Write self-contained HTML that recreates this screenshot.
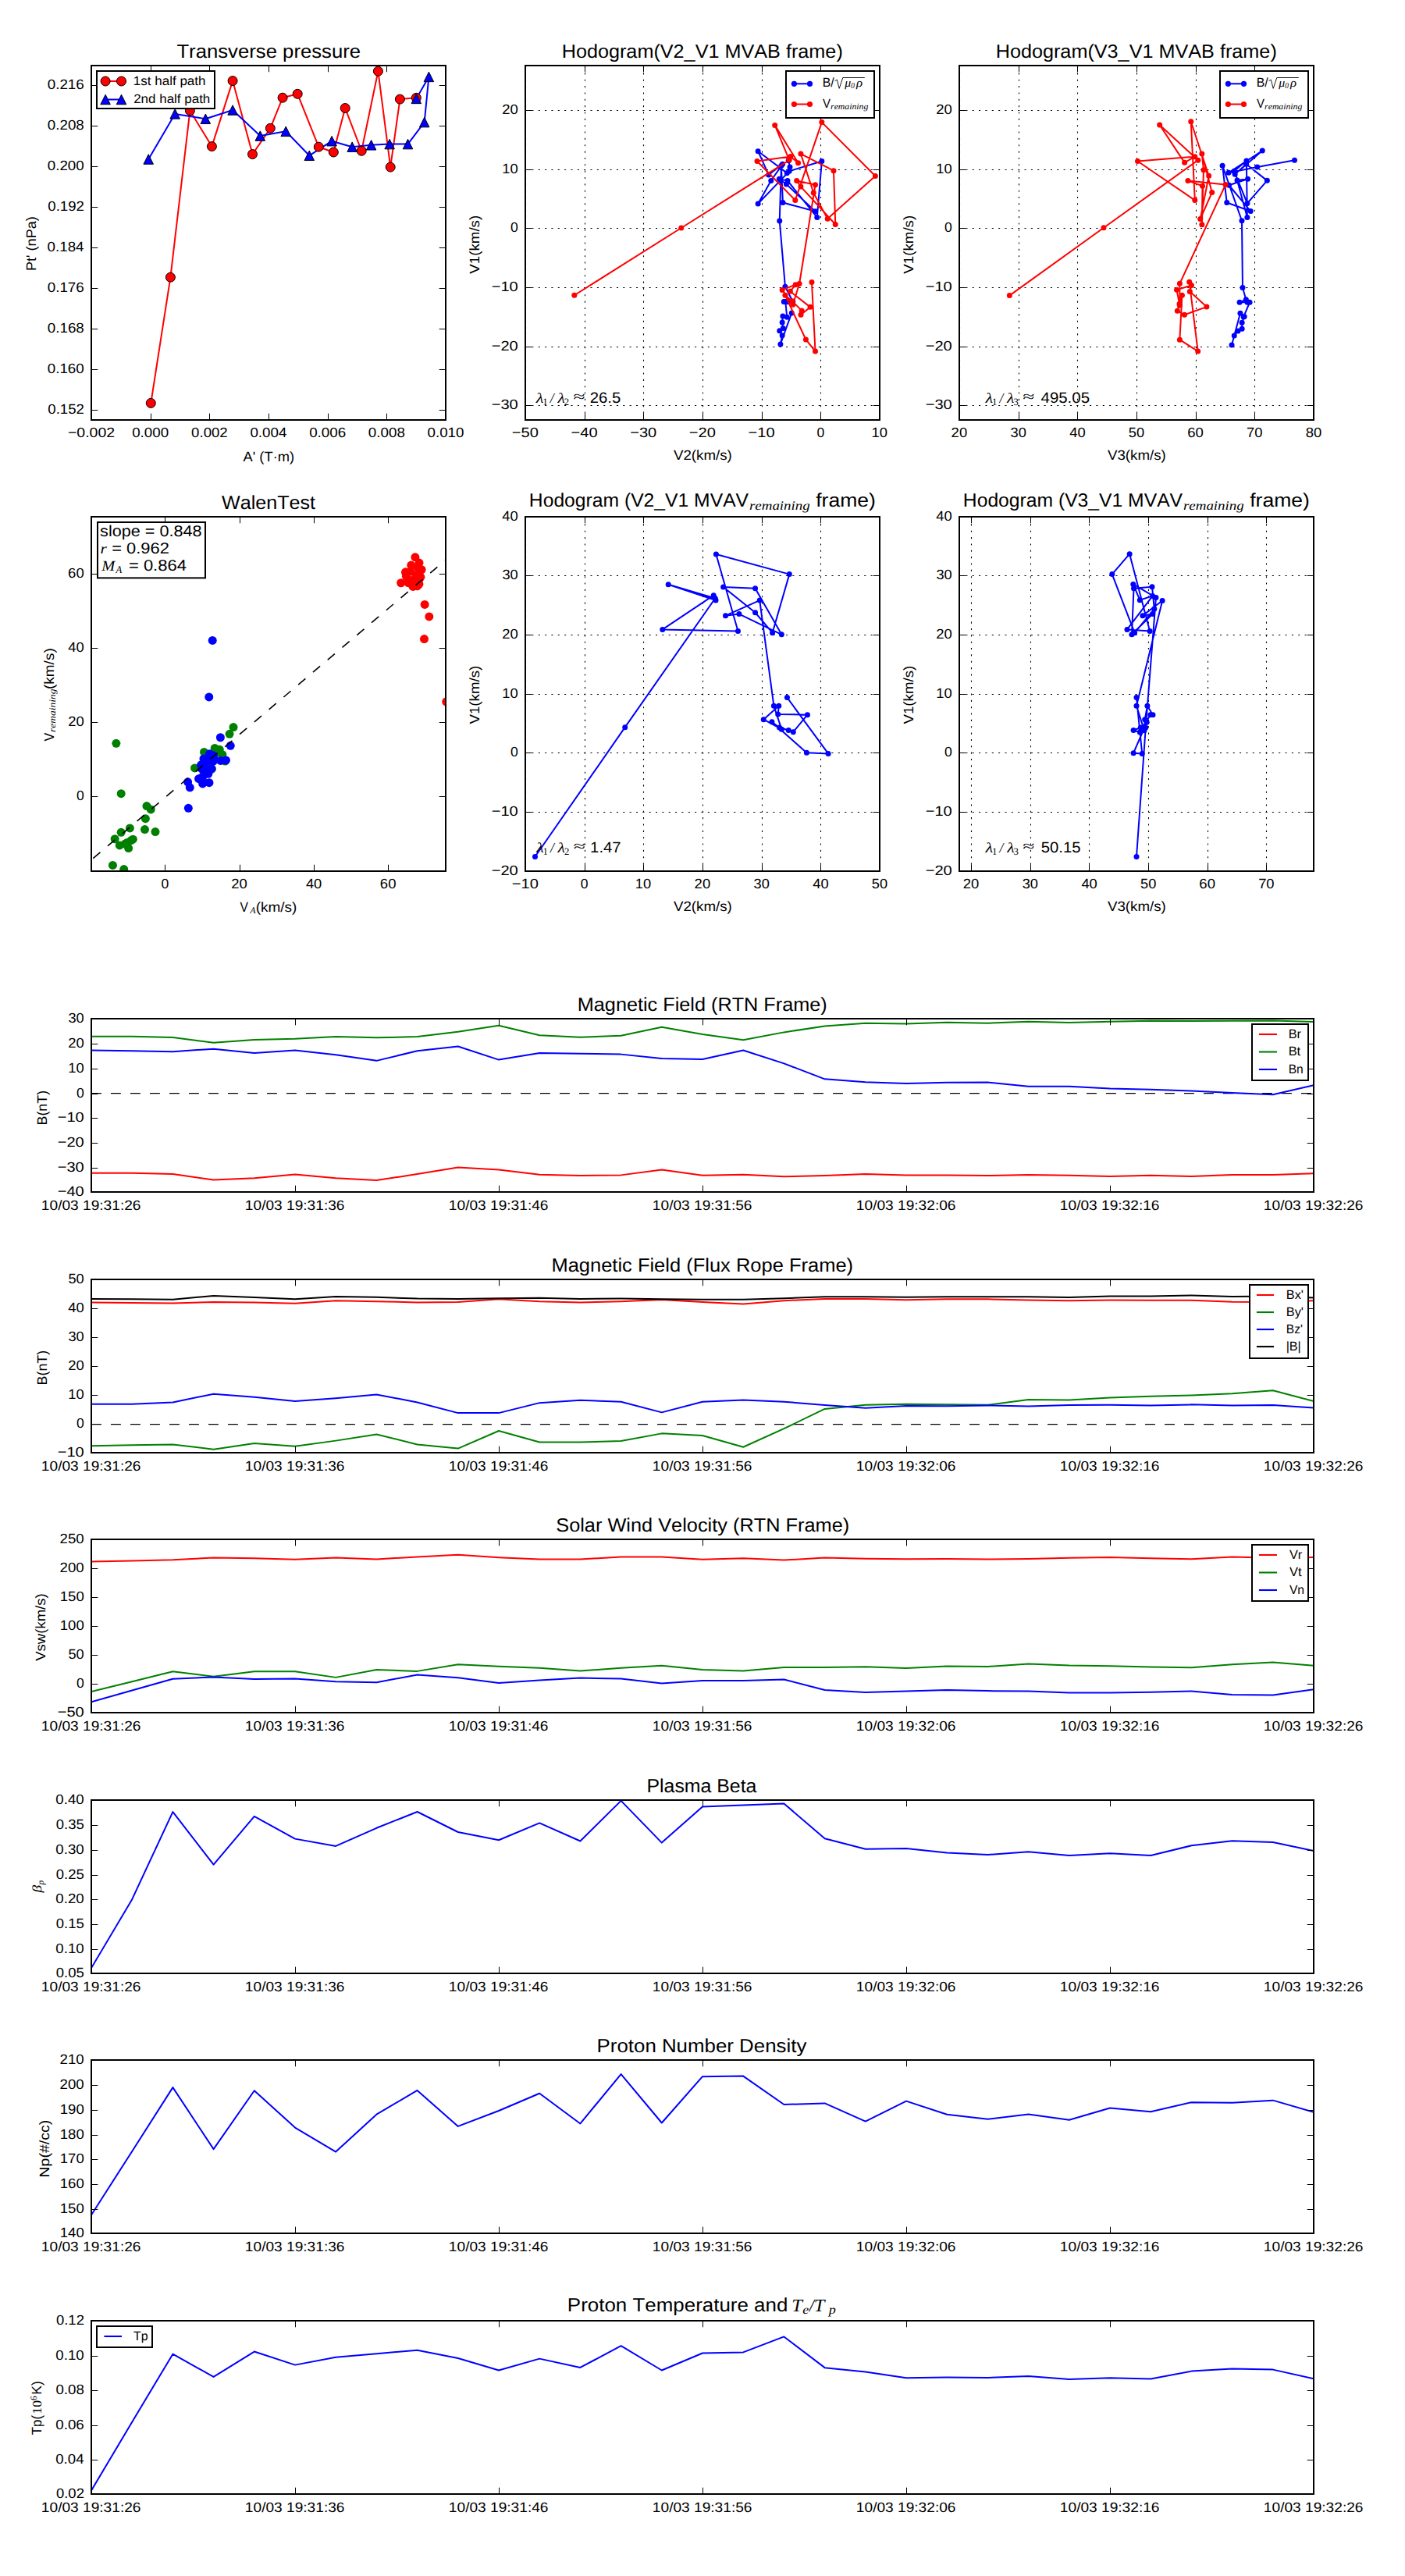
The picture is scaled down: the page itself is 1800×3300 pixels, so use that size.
<!DOCTYPE html>
<html><head><meta charset="utf-8"><style>html,body{margin:0;padding:0;background:#fff}svg{display:block} text{text-rendering:geometricPrecision;font-kerning:none;font-variant-ligatures:none;font-feature-settings:'kern' 0,'liga' 0}</style></head>
<body>
<svg width="1800" height="3300" viewBox="0 0 1800 3300" font-family="Liberation Sans, sans-serif">
<rect width="1800" height="3300" fill="#fff"/>
<clipPath id="c_A"><rect x="117" y="84" width="454" height="454"/></clipPath>
<g clip-path="url(#c_A)">
<polyline points="193.3,516.4 218.4,355.2 243.4,141.7 271.4,187.6 298.1,103.6 323.5,197.6 346.3,164.3 362.1,125.2 381.2,120.3 408.3,188.2 427.3,195 442.2,138.5 463.2,193.3 484.4,91.2 500.2,214.1 512.4,127.1 533.3,125.3" fill="none" stroke="#ff0000" stroke-width="2.0" stroke-linejoin="round" stroke-linecap="butt"/>
<polyline points="190.2,204 224.2,145.9 263.3,152.3 298.1,141 333.3,174.1 366.2,168.3 396.3,199.3 425.1,180.7 451.2,188.2 475.6,185.8 499.1,184.6 522.5,184.6 543.7,156.6 549.4,98.4 533.3,126.4" fill="none" stroke="#0000ff" stroke-width="2.0" stroke-linejoin="round" stroke-linecap="butt"/>
<g fill="#ff0000" stroke="#000" stroke-width="1.0"><circle cx="193.3" cy="516.4" r="6.0"/><circle cx="218.4" cy="355.2" r="6.0"/><circle cx="243.4" cy="141.7" r="6.0"/><circle cx="271.4" cy="187.6" r="6.0"/><circle cx="298.1" cy="103.6" r="6.0"/><circle cx="323.5" cy="197.6" r="6.0"/><circle cx="346.3" cy="164.3" r="6.0"/><circle cx="362.1" cy="125.2" r="6.0"/><circle cx="381.2" cy="120.3" r="6.0"/><circle cx="408.3" cy="188.2" r="6.0"/><circle cx="427.3" cy="195" r="6.0"/><circle cx="442.2" cy="138.5" r="6.0"/><circle cx="463.2" cy="193.3" r="6.0"/><circle cx="484.4" cy="91.2" r="6.0"/><circle cx="500.2" cy="214.1" r="6.0"/><circle cx="512.4" cy="127.1" r="6.0"/><circle cx="533.3" cy="125.3" r="6.0"/></g>
<g fill="#0000ff" stroke="#000" stroke-width="1.0"><path d="M190.2 197.75L183.95 210.25L196.45 210.25Z"/><path d="M224.2 139.65L217.95 152.15L230.45 152.15Z"/><path d="M263.3 146.05L257.05 158.55L269.55 158.55Z"/><path d="M298.1 134.75L291.85 147.25L304.35 147.25Z"/><path d="M333.3 167.85L327.05 180.35L339.55 180.35Z"/><path d="M366.2 162.05L359.95 174.55L372.45 174.55Z"/><path d="M396.3 193.05L390.05 205.55L402.55 205.55Z"/><path d="M425.1 174.45L418.85 186.95L431.35 186.95Z"/><path d="M451.2 181.95L444.95 194.45L457.45 194.45Z"/><path d="M475.6 179.55L469.35 192.05L481.85 192.05Z"/><path d="M499.1 178.35L492.85 190.85L505.35 190.85Z"/><path d="M522.5 178.35L516.25 190.85L528.75 190.85Z"/><path d="M543.7 150.35L537.45 162.85L549.95 162.85Z"/><path d="M549.4 92.15L543.15 104.65L555.65 104.65Z"/><path d="M533.3 120.15L527.05 132.65L539.55 132.65Z"/></g>
</g>
<rect x="117" y="84" width="454" height="454" fill="none" stroke="#000" stroke-width="2"/>
<path d="M117.5 538v-8.3M117.5 84v8.3M193.5 538v-8.3M193.5 84v8.3M268.5 538v-8.3M268.5 84v8.3M344.5 538v-8.3M344.5 84v8.3M420.5 538v-8.3M420.5 84v8.3M495.5 538v-8.3M495.5 84v8.3M571.5 538v-8.3M571.5 84v8.3M117 525.5h8.3M571 525.5h-8.3M117 473.5h8.3M571 473.5h-8.3M117 421.5h8.3M571 421.5h-8.3M117 369.5h8.3M571 369.5h-8.3M117 317.5h8.3M571 317.5h-8.3M117 265.5h8.3M571 265.5h-8.3M117 213.5h8.3M571 213.5h-8.3M117 161.5h8.3M571 161.5h-8.3M117 109.5h8.3M571 109.5h-8.3" stroke="#000" stroke-width="1" fill="none"/>
<text x="86.92" y="559.9" font-size="17.67" textLength="60.19" lengthAdjust="spacingAndGlyphs" >−0.002</text>
<text x="169.18" y="559.9" font-size="17.67" textLength="46.97" lengthAdjust="spacingAndGlyphs" >0.000</text>
<text x="245.13" y="559.9" font-size="17.67" textLength="46.61" lengthAdjust="spacingAndGlyphs" >0.002</text>
<text x="320.43" y="559.9" font-size="17.67" textLength="46.96" lengthAdjust="spacingAndGlyphs" >0.004</text>
<text x="396.15" y="559.9" font-size="17.67" textLength="47.13" lengthAdjust="spacingAndGlyphs" >0.006</text>
<text x="471.86" y="559.9" font-size="17.67" textLength="47.03" lengthAdjust="spacingAndGlyphs" >0.008</text>
<text x="547.51" y="559.9" font-size="17.67" textLength="46.97" lengthAdjust="spacingAndGlyphs" >0.010</text>
<text x="61.33" y="529.53" font-size="17.67" textLength="46.61" lengthAdjust="spacingAndGlyphs" >0.152</text>
<text x="60.76" y="477.64" font-size="17.67" textLength="46.97" lengthAdjust="spacingAndGlyphs" >0.160</text>
<text x="60.79" y="425.76" font-size="17.67" textLength="47.03" lengthAdjust="spacingAndGlyphs" >0.168</text>
<text x="60.7" y="373.87" font-size="17.67" textLength="47.13" lengthAdjust="spacingAndGlyphs" >0.176</text>
<text x="60.59" y="321.99" font-size="17.67" textLength="46.96" lengthAdjust="spacingAndGlyphs" >0.184</text>
<text x="61.33" y="270.1" font-size="17.67" textLength="46.61" lengthAdjust="spacingAndGlyphs" >0.192</text>
<text x="60.76" y="218.21" font-size="17.67" textLength="46.97" lengthAdjust="spacingAndGlyphs" >0.200</text>
<text x="60.79" y="166.33" font-size="17.67" textLength="47.03" lengthAdjust="spacingAndGlyphs" >0.208</text>
<text x="60.7" y="114.44" font-size="17.67" textLength="47.13" lengthAdjust="spacingAndGlyphs" >0.216</text>
<rect x="124" y="91" width="151" height="48" fill="#fff" stroke="#000" stroke-width="2"/>
<path d="M135.1 104H155.5" stroke="#ff0000" stroke-width="2"/><path d="M135.1 127.5H155.5" stroke="#0000ff" stroke-width="2"/>
<g fill="#ff0000" stroke="#000" stroke-width="1"><circle cx="135.1" cy="104" r="6"/><circle cx="155.5" cy="104" r="6"/></g>
<g fill="#0000ff" stroke="#000" stroke-width="1"><path d="M135.1 121.25L128.85 133.75L141.35 133.75Z"/><path d="M155.5 121.25L149.25 133.75L161.75 133.75Z"/></g>
<text x="170.75" y="109" font-size="16.19" textLength="92.8" lengthAdjust="spacingAndGlyphs" >1st half path</text>
<text x="171.2" y="131.9" font-size="16.19" textLength="98.12" lengthAdjust="spacingAndGlyphs" >2nd half path</text>
<text x="226.41" y="73.8" font-size="24.38" textLength="235.74" lengthAdjust="spacingAndGlyphs" >Transverse pressure</text>
<text x="311.55" y="590.8" font-size="17.67" textLength="65.61" lengthAdjust="spacingAndGlyphs" >A' (T·m)</text>
<text transform="translate(45.8,311.9) rotate(-90)" x="-35.1" y="0" font-size="17.67" textLength="69.83" lengthAdjust="spacingAndGlyphs" >Pt' (nPa)</text>
<clipPath id="c_B"><rect x="673" y="84" width="454" height="454"/></clipPath>
<g clip-path="url(#c_B)">
<path d="M673.5 538V84M749.5 538V84M824.5 538V84M900.5 538V84M976.5 538V84M1051.5 538V84M1127.5 538V84M673 519.5H1127M673 444.5H1127M673 368.5H1127M673 292.5H1127M673 217.5H1127M673 141.5H1127" stroke="#000" stroke-width="1.1" stroke-dasharray="2.1 6.25" fill="none"/>
<polyline points="1010.25,205.73 1011.99,214.1 1008.2,221.67 971.13,193.68 984.75,223.94 1002.53,210.32 987.77,231.5 971.13,261 1011.1,219.33 1052.85,206.54 1046.79,278.4 1008.96,231.5 998.37,229.23 1007.45,236.04 1044.52,270.83 1002.91,259.49 1000.91,212.24 998.74,282.94 1005.93,367.28 1015.77,386.57 1004.3,386.48 1009.47,386.85 1006.31,386.57 1008.2,406.23 1002.91,405.1 1002.15,413.04 1003.28,420.6 998.74,423.63 1002.15,429.68 999.88,441.03 1014.26,400.94" fill="none" stroke="#0000ff" stroke-width="2.0" stroke-linejoin="round" stroke-linecap="butt"/>
<g fill="#0000ff"><circle cx="1010.25" cy="205.73" r="3.5"/><circle cx="1011.99" cy="214.1" r="3.5"/><circle cx="1008.2" cy="221.67" r="3.5"/><circle cx="971.13" cy="193.68" r="3.5"/><circle cx="984.75" cy="223.94" r="3.5"/><circle cx="1002.53" cy="210.32" r="3.5"/><circle cx="987.77" cy="231.5" r="3.5"/><circle cx="971.13" cy="261" r="3.5"/><circle cx="1011.1" cy="219.33" r="3.5"/><circle cx="1052.85" cy="206.54" r="3.5"/><circle cx="1046.79" cy="278.4" r="3.5"/><circle cx="1008.96" cy="231.5" r="3.5"/><circle cx="998.37" cy="229.23" r="3.5"/><circle cx="1007.45" cy="236.04" r="3.5"/><circle cx="1044.52" cy="270.83" r="3.5"/><circle cx="1002.91" cy="259.49" r="3.5"/><circle cx="1000.91" cy="212.24" r="3.5"/><circle cx="998.74" cy="282.94" r="3.5"/><circle cx="1005.93" cy="367.28" r="3.5"/><circle cx="1015.77" cy="386.57" r="3.5"/><circle cx="1004.3" cy="386.48" r="3.5"/><circle cx="1009.47" cy="386.85" r="3.5"/><circle cx="1006.31" cy="386.57" r="3.5"/><circle cx="1008.2" cy="406.23" r="3.5"/><circle cx="1002.91" cy="405.1" r="3.5"/><circle cx="1002.15" cy="413.04" r="3.5"/><circle cx="1003.28" cy="420.6" r="3.5"/><circle cx="998.74" cy="423.63" r="3.5"/><circle cx="1002.15" cy="429.68" r="3.5"/><circle cx="999.88" cy="441.03" r="3.5"/><circle cx="1014.26" cy="400.94" r="3.5"/></g>
<polyline points="735.8,378.25 872.76,292.01 1011.23,205.03 992.69,160.4 1022.58,208.81 1012.74,200.49 969.99,206.54 1018.8,256.46 1052.85,156.62 1121.4,225.45 1060.19,280.21 1042.25,247.01 1025.91,197.08 1067.98,218.64 1070.25,287.48 1025.91,239.06 1020.69,231.5 1044.52,236.8 1024.09,363.5 1015.77,390.35 1002.15,371.44 1019.17,364.63 1012.37,373.33 1038.09,393.37 1025.99,403.21 1027.12,397.91 1015.01,385.81 1005.93,378.25 1032.42,434.98 1044.52,450.1 1039.98,361.6" fill="none" stroke="#ff0000" stroke-width="2.0" stroke-linejoin="round" stroke-linecap="butt"/>
<g fill="#ff0000"><circle cx="735.8" cy="378.25" r="3.5"/><circle cx="872.76" cy="292.01" r="3.5"/><circle cx="1011.23" cy="205.03" r="3.5"/><circle cx="992.69" cy="160.4" r="3.5"/><circle cx="1022.58" cy="208.81" r="3.5"/><circle cx="1012.74" cy="200.49" r="3.5"/><circle cx="969.99" cy="206.54" r="3.5"/><circle cx="1018.8" cy="256.46" r="3.5"/><circle cx="1052.85" cy="156.62" r="3.5"/><circle cx="1121.4" cy="225.45" r="3.5"/><circle cx="1060.19" cy="280.21" r="3.5"/><circle cx="1042.25" cy="247.01" r="3.5"/><circle cx="1025.91" cy="197.08" r="3.5"/><circle cx="1067.98" cy="218.64" r="3.5"/><circle cx="1070.25" cy="287.48" r="3.5"/><circle cx="1025.91" cy="239.06" r="3.5"/><circle cx="1020.69" cy="231.5" r="3.5"/><circle cx="1044.52" cy="236.8" r="3.5"/><circle cx="1024.09" cy="363.5" r="3.5"/><circle cx="1015.77" cy="390.35" r="3.5"/><circle cx="1002.15" cy="371.44" r="3.5"/><circle cx="1019.17" cy="364.63" r="3.5"/><circle cx="1012.37" cy="373.33" r="3.5"/><circle cx="1038.09" cy="393.37" r="3.5"/><circle cx="1025.99" cy="403.21" r="3.5"/><circle cx="1027.12" cy="397.91" r="3.5"/><circle cx="1015.01" cy="385.81" r="3.5"/><circle cx="1005.93" cy="378.25" r="3.5"/><circle cx="1032.42" cy="434.98" r="3.5"/><circle cx="1044.52" cy="450.1" r="3.5"/><circle cx="1039.98" cy="361.6" r="3.5"/></g>
</g>
<rect x="673" y="84" width="454" height="454" fill="none" stroke="#000" stroke-width="2"/>
<path d="M673.5 538v-8.3M673.5 84v8.3M749.5 538v-8.3M749.5 84v8.3M824.5 538v-8.3M824.5 84v8.3M900.5 538v-8.3M900.5 84v8.3M976.5 538v-8.3M976.5 84v8.3M1051.5 538v-8.3M1051.5 84v8.3M1127.5 538v-8.3M1127.5 84v8.3M673 519.5h8.3M1127 519.5h-8.3M673 444.5h8.3M1127 444.5h-8.3M673 368.5h8.3M1127 368.5h-8.3M673 292.5h8.3M1127 292.5h-8.3M673 217.5h8.3M1127 217.5h-8.3M673 141.5h8.3M1127 141.5h-8.3" stroke="#000" stroke-width="1" fill="none"/>
<text x="655.86" y="559.9" font-size="17.67" textLength="34.08" lengthAdjust="spacingAndGlyphs" >−50</text>
<text x="731.53" y="559.9" font-size="17.67" textLength="34.08" lengthAdjust="spacingAndGlyphs" >−40</text>
<text x="807.19" y="559.9" font-size="17.67" textLength="34.08" lengthAdjust="spacingAndGlyphs" >−30</text>
<text x="882.86" y="559.9" font-size="17.67" textLength="34.08" lengthAdjust="spacingAndGlyphs" >−20</text>
<text x="958.53" y="559.9" font-size="17.67" textLength="34.08" lengthAdjust="spacingAndGlyphs" >−10</text>
<text x="1046.45" y="559.9" font-size="17.67" textLength="9.77" lengthAdjust="spacingAndGlyphs" >0</text>
<text x="1116.47" y="559.9" font-size="17.67" textLength="20.38" lengthAdjust="spacingAndGlyphs" >10</text>
<text x="629.71" y="524.19" font-size="17.67" textLength="34.08" lengthAdjust="spacingAndGlyphs" >−30</text>
<text x="629.71" y="448.55" font-size="17.67" textLength="34.08" lengthAdjust="spacingAndGlyphs" >−20</text>
<text x="629.71" y="372.91" font-size="17.67" textLength="34.08" lengthAdjust="spacingAndGlyphs" >−10</text>
<text x="653.92" y="297.27" font-size="17.67" textLength="9.77" lengthAdjust="spacingAndGlyphs" >0</text>
<text x="643.33" y="221.63" font-size="17.67" textLength="20.38" lengthAdjust="spacingAndGlyphs" >10</text>
<text x="643.19" y="145.99" font-size="17.67" textLength="20.53" lengthAdjust="spacingAndGlyphs" >20</text>
<clipPath id="c_C"><rect x="1229" y="84" width="454" height="454"/></clipPath>
<g clip-path="url(#c_C)">
<path d="M1229.5 538V84M1305.5 538V84M1380.5 538V84M1456.5 538V84M1532.5 538V84M1607.5 538V84M1683.5 538V84M1229 519.5H1683M1229 444.5H1683M1229 368.5H1683M1229 292.5H1683M1229 217.5H1683M1229 141.5H1683" stroke="#000" stroke-width="1.1" stroke-dasharray="2.1 6.25" fill="none"/>
<polyline points="1658.48,205.25 1610.74,214.1 1573.96,221.29 1617.25,193 1582.14,223.18 1596.61,210.23 1623.37,231.35 1597.88,260.47 1581.14,219.33 1596.89,205.93 1597.88,278.4 1585.01,231.05 1598.56,229.31 1574.47,237.25 1602.19,270.53 1571.77,259.49 1566.1,212.14 1590.99,282.71 1591.97,368.41 1596.33,383.82 1588.11,387.25 1598.03,387.25 1601.05,387.25 1593.21,405.92 1594.17,405.4 1591.14,413.27 1591.14,421.13 1586,424.08 1581.23,430.06 1578.05,441.94 1588.95,401.16" fill="none" stroke="#0000ff" stroke-width="2.0" stroke-linejoin="round" stroke-linecap="butt"/>
<g fill="#0000ff"><circle cx="1658.48" cy="205.25" r="3.5"/><circle cx="1610.74" cy="214.1" r="3.5"/><circle cx="1573.96" cy="221.29" r="3.5"/><circle cx="1617.25" cy="193" r="3.5"/><circle cx="1582.14" cy="223.18" r="3.5"/><circle cx="1596.61" cy="210.23" r="3.5"/><circle cx="1623.37" cy="231.35" r="3.5"/><circle cx="1597.88" cy="260.47" r="3.5"/><circle cx="1581.14" cy="219.33" r="3.5"/><circle cx="1596.89" cy="205.93" r="3.5"/><circle cx="1597.88" cy="278.4" r="3.5"/><circle cx="1585.01" cy="231.05" r="3.5"/><circle cx="1598.56" cy="229.31" r="3.5"/><circle cx="1574.47" cy="237.25" r="3.5"/><circle cx="1602.19" cy="270.53" r="3.5"/><circle cx="1571.77" cy="259.49" r="3.5"/><circle cx="1566.1" cy="212.14" r="3.5"/><circle cx="1590.99" cy="282.71" r="3.5"/><circle cx="1591.97" cy="368.41" r="3.5"/><circle cx="1596.33" cy="383.82" r="3.5"/><circle cx="1588.11" cy="387.25" r="3.5"/><circle cx="1598.03" cy="387.25" r="3.5"/><circle cx="1601.05" cy="387.25" r="3.5"/><circle cx="1593.21" cy="405.92" r="3.5"/><circle cx="1594.17" cy="405.4" r="3.5"/><circle cx="1591.14" cy="413.27" r="3.5"/><circle cx="1591.14" cy="421.13" r="3.5"/><circle cx="1586" cy="424.08" r="3.5"/><circle cx="1581.23" cy="430.06" r="3.5"/><circle cx="1578.05" cy="441.94" r="3.5"/><circle cx="1588.95" cy="401.16" r="3.5"/></g>
<polyline points="1293.32,378.62 1414.01,291.79 1534.84,205.25 1485.66,160.02 1517.59,208.35 1530.83,200.64 1457.51,206.54 1530.83,256.61 1525.76,155.71 1548.69,225.3 1537.72,280.59 1552.7,246.55 1539.84,197.01 1541.96,217.81 1539.84,287.78 1540.52,238.23 1521.91,231.5 1570.11,236.49 1511.39,363.34 1511.39,391.33 1507.53,371.36 1526.52,365.46 1524.33,373.48 1545.89,393.07 1517.44,403.28 1508.36,398.14 1511.01,389.21 1514.41,378.17 1511.39,435.13 1534.69,450.03 1523.72,361.15" fill="none" stroke="#ff0000" stroke-width="2.0" stroke-linejoin="round" stroke-linecap="butt"/>
<g fill="#ff0000"><circle cx="1293.32" cy="378.62" r="3.5"/><circle cx="1414.01" cy="291.79" r="3.5"/><circle cx="1534.84" cy="205.25" r="3.5"/><circle cx="1485.66" cy="160.02" r="3.5"/><circle cx="1517.59" cy="208.35" r="3.5"/><circle cx="1530.83" cy="200.64" r="3.5"/><circle cx="1457.51" cy="206.54" r="3.5"/><circle cx="1530.83" cy="256.61" r="3.5"/><circle cx="1525.76" cy="155.71" r="3.5"/><circle cx="1548.69" cy="225.3" r="3.5"/><circle cx="1537.72" cy="280.59" r="3.5"/><circle cx="1552.7" cy="246.55" r="3.5"/><circle cx="1539.84" cy="197.01" r="3.5"/><circle cx="1541.96" cy="217.81" r="3.5"/><circle cx="1539.84" cy="287.78" r="3.5"/><circle cx="1540.52" cy="238.23" r="3.5"/><circle cx="1521.91" cy="231.5" r="3.5"/><circle cx="1570.11" cy="236.49" r="3.5"/><circle cx="1511.39" cy="363.34" r="3.5"/><circle cx="1511.39" cy="391.33" r="3.5"/><circle cx="1507.53" cy="371.36" r="3.5"/><circle cx="1526.52" cy="365.46" r="3.5"/><circle cx="1524.33" cy="373.48" r="3.5"/><circle cx="1545.89" cy="393.07" r="3.5"/><circle cx="1517.44" cy="403.28" r="3.5"/><circle cx="1508.36" cy="398.14" r="3.5"/><circle cx="1511.01" cy="389.21" r="3.5"/><circle cx="1514.41" cy="378.17" r="3.5"/><circle cx="1511.39" cy="435.13" r="3.5"/><circle cx="1534.69" cy="450.03" r="3.5"/><circle cx="1523.72" cy="361.15" r="3.5"/></g>
</g>
<rect x="1229" y="84" width="454" height="454" fill="none" stroke="#000" stroke-width="2"/>
<path d="M1229.5 538v-8.3M1229.5 84v8.3M1305.5 538v-8.3M1305.5 84v8.3M1380.5 538v-8.3M1380.5 84v8.3M1456.5 538v-8.3M1456.5 84v8.3M1532.5 538v-8.3M1532.5 84v8.3M1607.5 538v-8.3M1607.5 84v8.3M1683.5 538v-8.3M1683.5 84v8.3M1229 519.5h8.3M1683 519.5h-8.3M1229 444.5h8.3M1683 444.5h-8.3M1229 368.5h8.3M1683 368.5h-8.3M1229 292.5h8.3M1683 292.5h-8.3M1229 217.5h8.3M1683 217.5h-8.3M1229 141.5h8.3M1683 141.5h-8.3" stroke="#000" stroke-width="1" fill="none"/>
<text x="1218.63" y="559.9" font-size="17.67" textLength="20.53" lengthAdjust="spacingAndGlyphs" >20</text>
<text x="1294.56" y="559.9" font-size="17.67" textLength="20.23" lengthAdjust="spacingAndGlyphs" >30</text>
<text x="1370.27" y="559.9" font-size="17.67" textLength="20.43" lengthAdjust="spacingAndGlyphs" >40</text>
<text x="1445.86" y="559.9" font-size="17.67" textLength="20.26" lengthAdjust="spacingAndGlyphs" >50</text>
<text x="1521.26" y="559.9" font-size="17.67" textLength="20.6" lengthAdjust="spacingAndGlyphs" >60</text>
<text x="1597.03" y="559.9" font-size="17.67" textLength="20.39" lengthAdjust="spacingAndGlyphs" >70</text>
<text x="1672.71" y="559.9" font-size="17.67" textLength="20.49" lengthAdjust="spacingAndGlyphs" >80</text>
<text x="1185.71" y="524.19" font-size="17.67" textLength="34.08" lengthAdjust="spacingAndGlyphs" >−30</text>
<text x="1185.71" y="448.55" font-size="17.67" textLength="34.08" lengthAdjust="spacingAndGlyphs" >−20</text>
<text x="1185.71" y="372.91" font-size="17.67" textLength="34.08" lengthAdjust="spacingAndGlyphs" >−10</text>
<text x="1209.92" y="297.27" font-size="17.67" textLength="9.77" lengthAdjust="spacingAndGlyphs" >0</text>
<text x="1199.33" y="221.63" font-size="17.67" textLength="20.38" lengthAdjust="spacingAndGlyphs" >10</text>
<text x="1199.19" y="145.99" font-size="17.67" textLength="20.53" lengthAdjust="spacingAndGlyphs" >20</text>
<text x="719.7" y="73.8" font-size="24.38" textLength="360.09" lengthAdjust="spacingAndGlyphs" >Hodogram(V2_V1 MVAB frame)</text>
<text x="1275.7" y="73.8" font-size="24.38" textLength="360.09" lengthAdjust="spacingAndGlyphs" >Hodogram(V3_V1 MVAB frame)</text>
<clipPath id="c_E"><rect x="673" y="662" width="454" height="454"/></clipPath>
<g clip-path="url(#c_E)">
<path d="M673.5 1116V662M749.5 1116V662M824.5 1116V662M900.5 1116V662M976.5 1116V662M1051.5 1116V662M1127.5 1116V662M673 1116.5H1127M673 1040.5H1127M673 964.5H1127M673 889.5H1127M673 813.5H1127M673 737.5H1127M673 662.5H1127" stroke="#000" stroke-width="1.1" stroke-dasharray="2.1 6.25" fill="none"/>
<polyline points="685.49,1097.46 800.73,931.68 916.26,766.45 856.19,748.79 917.02,769.07 914.23,762.64 848.77,806.45 945.48,808.57 917.4,710.05 1011.31,735.62 989.59,810.68 967.57,784.73 926.63,752.04 967.57,753.78 1001.32,812.8 946.91,786.55 929.51,788.67 973.25,769.07 991.41,904.28 1001.32,934.17 978.24,921.69 997.76,904.28 996.7,914.95 1034.46,915.63 1016.3,937.73 1010.25,935.53 998.52,931.98 988.91,924.87 1033.4,964.36 1061.09,965.42 1008.43,893.62" fill="none" stroke="#0000ff" stroke-width="2.0" stroke-linejoin="round" stroke-linecap="butt"/>
<g fill="#0000ff"><circle cx="685.49" cy="1097.46" r="3.5"/><circle cx="800.73" cy="931.68" r="3.5"/><circle cx="916.26" cy="766.45" r="3.5"/><circle cx="856.19" cy="748.79" r="3.5"/><circle cx="917.02" cy="769.07" r="3.5"/><circle cx="914.23" cy="762.64" r="3.5"/><circle cx="848.77" cy="806.45" r="3.5"/><circle cx="945.48" cy="808.57" r="3.5"/><circle cx="917.4" cy="710.05" r="3.5"/><circle cx="1011.31" cy="735.62" r="3.5"/><circle cx="989.59" cy="810.68" r="3.5"/><circle cx="967.57" cy="784.73" r="3.5"/><circle cx="926.63" cy="752.04" r="3.5"/><circle cx="967.57" cy="753.78" r="3.5"/><circle cx="1001.32" cy="812.8" r="3.5"/><circle cx="946.91" cy="786.55" r="3.5"/><circle cx="929.51" cy="788.67" r="3.5"/><circle cx="973.25" cy="769.07" r="3.5"/><circle cx="991.41" cy="904.28" r="3.5"/><circle cx="1001.32" cy="934.17" r="3.5"/><circle cx="978.24" cy="921.69" r="3.5"/><circle cx="997.76" cy="904.28" r="3.5"/><circle cx="996.7" cy="914.95" r="3.5"/><circle cx="1034.46" cy="915.63" r="3.5"/><circle cx="1016.3" cy="937.73" r="3.5"/><circle cx="1010.25" cy="935.53" r="3.5"/><circle cx="998.52" cy="931.98" r="3.5"/><circle cx="988.91" cy="924.87" r="3.5"/><circle cx="1033.4" cy="964.36" r="3.5"/><circle cx="1061.09" cy="965.42" r="3.5"/><circle cx="1008.43" cy="893.62" r="3.5"/></g>
</g>
<rect x="673" y="662" width="454" height="454" fill="none" stroke="#000" stroke-width="2"/>
<path d="M673.5 1116v-8.3M673.5 662v8.3M749.5 1116v-8.3M749.5 662v8.3M824.5 1116v-8.3M824.5 662v8.3M900.5 1116v-8.3M900.5 662v8.3M976.5 1116v-8.3M976.5 662v8.3M1051.5 1116v-8.3M1051.5 662v8.3M1127.5 1116v-8.3M1127.5 662v8.3M673 1116.5h8.3M1127 1116.5h-8.3M673 1040.5h8.3M1127 1040.5h-8.3M673 964.5h8.3M1127 964.5h-8.3M673 889.5h8.3M1127 889.5h-8.3M673 813.5h8.3M1127 813.5h-8.3M673 737.5h8.3M1127 737.5h-8.3M673 662.5h8.3M1127 662.5h-8.3" stroke="#000" stroke-width="1" fill="none"/>
<text x="655.86" y="1137.9" font-size="17.67" textLength="34.08" lengthAdjust="spacingAndGlyphs" >−10</text>
<text x="743.78" y="1137.9" font-size="17.67" textLength="9.77" lengthAdjust="spacingAndGlyphs" >0</text>
<text x="813.8" y="1137.9" font-size="17.67" textLength="20.38" lengthAdjust="spacingAndGlyphs" >10</text>
<text x="889.63" y="1137.9" font-size="17.67" textLength="20.53" lengthAdjust="spacingAndGlyphs" >20</text>
<text x="965.56" y="1137.9" font-size="17.67" textLength="20.23" lengthAdjust="spacingAndGlyphs" >30</text>
<text x="1041.27" y="1137.9" font-size="17.67" textLength="20.43" lengthAdjust="spacingAndGlyphs" >40</text>
<text x="1116.86" y="1137.9" font-size="17.67" textLength="20.26" lengthAdjust="spacingAndGlyphs" >50</text>
<text x="629.71" y="1120.5" font-size="17.67" textLength="34.08" lengthAdjust="spacingAndGlyphs" >−20</text>
<text x="629.71" y="1044.83" font-size="17.67" textLength="34.08" lengthAdjust="spacingAndGlyphs" >−10</text>
<text x="653.92" y="969.17" font-size="17.67" textLength="9.77" lengthAdjust="spacingAndGlyphs" >0</text>
<text x="643.33" y="893.5" font-size="17.67" textLength="20.38" lengthAdjust="spacingAndGlyphs" >10</text>
<text x="643.19" y="817.83" font-size="17.67" textLength="20.53" lengthAdjust="spacingAndGlyphs" >20</text>
<text x="643.48" y="742.17" font-size="17.67" textLength="20.23" lengthAdjust="spacingAndGlyphs" >30</text>
<text x="643.29" y="666.5" font-size="17.67" textLength="20.43" lengthAdjust="spacingAndGlyphs" >40</text>
<clipPath id="c_F"><rect x="1229" y="662" width="454" height="454"/></clipPath>
<g clip-path="url(#c_F)">
<path d="M1244.5 1116V662M1320.5 1116V662M1395.5 1116V662M1471.5 1116V662M1547.5 1116V662M1622.5 1116V662M1229 1116.5H1683M1229 1040.5H1683M1229 964.5H1683M1229 889.5H1683M1229 813.5H1683M1229 737.5H1683M1229 662.5H1683" stroke="#000" stroke-width="1.1" stroke-dasharray="2.1 6.25" fill="none"/>
<polyline points="1456,1097.46 1467.8,931.98 1480.97,765.51 1451.76,748.41 1460.31,768.69 1476.66,763.39 1443.97,806.45 1473.1,808.57 1447.15,709.67 1424.75,735.62 1453.58,810.68 1478.85,780.1 1475.98,751.66 1452.52,753.78 1450.02,812.8 1476.66,786.47 1463.87,788.67 1489.14,769.45 1456,904.28 1465.98,935.84 1466.74,921.69 1469.92,904.28 1476.98,915.79 1473.86,915.63 1460.31,938.03 1452.14,935.53 1461.37,931.98 1469.24,925.24 1452.14,964.67 1463.19,965.42 1456,893.62" fill="none" stroke="#0000ff" stroke-width="2.0" stroke-linejoin="round" stroke-linecap="butt"/>
<g fill="#0000ff"><circle cx="1456" cy="1097.46" r="3.5"/><circle cx="1467.8" cy="931.98" r="3.5"/><circle cx="1480.97" cy="765.51" r="3.5"/><circle cx="1451.76" cy="748.41" r="3.5"/><circle cx="1460.31" cy="768.69" r="3.5"/><circle cx="1476.66" cy="763.39" r="3.5"/><circle cx="1443.97" cy="806.45" r="3.5"/><circle cx="1473.1" cy="808.57" r="3.5"/><circle cx="1447.15" cy="709.67" r="3.5"/><circle cx="1424.75" cy="735.62" r="3.5"/><circle cx="1453.58" cy="810.68" r="3.5"/><circle cx="1478.85" cy="780.1" r="3.5"/><circle cx="1475.98" cy="751.66" r="3.5"/><circle cx="1452.52" cy="753.78" r="3.5"/><circle cx="1450.02" cy="812.8" r="3.5"/><circle cx="1476.66" cy="786.47" r="3.5"/><circle cx="1463.87" cy="788.67" r="3.5"/><circle cx="1489.14" cy="769.45" r="3.5"/><circle cx="1456" cy="904.28" r="3.5"/><circle cx="1465.98" cy="935.84" r="3.5"/><circle cx="1466.74" cy="921.69" r="3.5"/><circle cx="1469.92" cy="904.28" r="3.5"/><circle cx="1476.98" cy="915.79" r="3.5"/><circle cx="1473.86" cy="915.63" r="3.5"/><circle cx="1460.31" cy="938.03" r="3.5"/><circle cx="1452.14" cy="935.53" r="3.5"/><circle cx="1461.37" cy="931.98" r="3.5"/><circle cx="1469.24" cy="925.24" r="3.5"/><circle cx="1452.14" cy="964.67" r="3.5"/><circle cx="1463.19" cy="965.42" r="3.5"/><circle cx="1456" cy="893.62" r="3.5"/></g>
</g>
<rect x="1229" y="662" width="454" height="454" fill="none" stroke="#000" stroke-width="2"/>
<path d="M1244.5 1116v-8.3M1244.5 662v8.3M1320.5 1116v-8.3M1320.5 662v8.3M1395.5 1116v-8.3M1395.5 662v8.3M1471.5 1116v-8.3M1471.5 662v8.3M1547.5 1116v-8.3M1547.5 662v8.3M1622.5 1116v-8.3M1622.5 662v8.3M1229 1116.5h8.3M1683 1116.5h-8.3M1229 1040.5h8.3M1683 1040.5h-8.3M1229 964.5h8.3M1683 964.5h-8.3M1229 889.5h8.3M1683 889.5h-8.3M1229 813.5h8.3M1683 813.5h-8.3M1229 737.5h8.3M1683 737.5h-8.3M1229 662.5h8.3M1683 662.5h-8.3" stroke="#000" stroke-width="1" fill="none"/>
<text x="1233.76" y="1137.9" font-size="17.67" textLength="20.53" lengthAdjust="spacingAndGlyphs" >20</text>
<text x="1309.69" y="1137.9" font-size="17.67" textLength="20.23" lengthAdjust="spacingAndGlyphs" >30</text>
<text x="1385.4" y="1137.9" font-size="17.67" textLength="20.43" lengthAdjust="spacingAndGlyphs" >40</text>
<text x="1461" y="1137.9" font-size="17.67" textLength="20.26" lengthAdjust="spacingAndGlyphs" >50</text>
<text x="1536.39" y="1137.9" font-size="17.67" textLength="20.6" lengthAdjust="spacingAndGlyphs" >60</text>
<text x="1612.16" y="1137.9" font-size="17.67" textLength="20.39" lengthAdjust="spacingAndGlyphs" >70</text>
<text x="1185.71" y="1120.5" font-size="17.67" textLength="34.08" lengthAdjust="spacingAndGlyphs" >−20</text>
<text x="1185.71" y="1044.83" font-size="17.67" textLength="34.08" lengthAdjust="spacingAndGlyphs" >−10</text>
<text x="1209.92" y="969.17" font-size="17.67" textLength="9.77" lengthAdjust="spacingAndGlyphs" >0</text>
<text x="1199.33" y="893.5" font-size="17.67" textLength="20.38" lengthAdjust="spacingAndGlyphs" >10</text>
<text x="1199.19" y="817.83" font-size="17.67" textLength="20.53" lengthAdjust="spacingAndGlyphs" >20</text>
<text x="1199.48" y="742.17" font-size="17.67" textLength="20.23" lengthAdjust="spacingAndGlyphs" >30</text>
<text x="1199.29" y="666.5" font-size="17.67" textLength="20.43" lengthAdjust="spacingAndGlyphs" >40</text>
<clipPath id="c_D"><rect x="117" y="662" width="454" height="454"/></clipPath>
<g clip-path="url(#c_D)">
<g fill="#ff0000"><circle cx="571.7" cy="899.01" r="5.5"/><circle cx="543.49" cy="818.52" r="5.5"/><circle cx="520.42" cy="738.33" r="5.5"/><circle cx="544.14" cy="774.47" r="5.5"/><circle cx="523.12" cy="746.68" r="5.5"/><circle cx="532.65" cy="739.34" r="5.5"/><circle cx="549.81" cy="789.97" r="5.5"/><circle cx="533.13" cy="739.15" r="5.5"/><circle cx="523.56" cy="742.55" r="5.5"/><circle cx="537.03" cy="721.05" r="5.5"/><circle cx="538.02" cy="730.27" r="5.5"/><circle cx="526.77" cy="724.11" r="5.5"/><circle cx="534.22" cy="736.03" r="5.5"/><circle cx="519.59" cy="732.86" r="5.5"/><circle cx="540.12" cy="729.75" r="5.5"/><circle cx="519.85" cy="733.5" r="5.5"/><circle cx="513.69" cy="746.75" r="5.5"/><circle cx="531.92" cy="713.79" r="5.5"/><circle cx="529.71" cy="750.8" r="5.5"/><circle cx="536.91" cy="748.25" r="5.5"/><circle cx="529.13" cy="751.43" r="5.5"/><circle cx="537.64" cy="738.72" r="5.5"/><circle cx="538.87" cy="739.33" r="5.5"/><circle cx="535.29" cy="727.18" r="5.5"/><circle cx="536.1" cy="744.36" r="5.5"/><circle cx="534.4" cy="750.81" r="5.5"/><circle cx="534.49" cy="750.28" r="5.5"/><circle cx="531.45" cy="746.96" r="5.5"/><circle cx="527.56" cy="748.65" r="5.5"/><circle cx="525.82" cy="732.02" r="5.5"/><circle cx="532.19" cy="741.56" r="5.5"/></g>
<g fill="#008000"><circle cx="148.85" cy="952.36" r="5.5"/><circle cx="155.17" cy="1016.67" r="5.5"/><circle cx="160.28" cy="1081" r="5.5"/><circle cx="144.45" cy="1108.47" r="5.5"/><circle cx="162.96" cy="1079.49" r="5.5"/><circle cx="153.26" cy="1082.95" r="5.5"/><circle cx="167.87" cy="1076.64" r="5.5"/><circle cx="186.38" cy="1048.73" r="5.5"/><circle cx="158.73" cy="1113.6" r="5.5"/><circle cx="147.13" cy="1074.76" r="5.5"/><circle cx="193.26" cy="1036.9" r="5.5"/><circle cx="166.39" cy="1060.9" r="5.5"/><circle cx="164.64" cy="1086.56" r="5.5"/><circle cx="170.34" cy="1075.18" r="5.5"/><circle cx="187.94" cy="1032.55" r="5.5"/><circle cx="185.49" cy="1062.54" r="5.5"/><circle cx="155.2" cy="1066.28" r="5.5"/><circle cx="198.97" cy="1065.56" r="5.5"/><circle cx="249.48" cy="983.89" r="5.5"/><circle cx="261.52" cy="963.48" r="5.5"/><circle cx="263.82" cy="976.33" r="5.5"/><circle cx="263.49" cy="980.96" r="5.5"/><circle cx="262.41" cy="974.66" r="5.5"/><circle cx="275.65" cy="965.66" r="5.5"/><circle cx="275.18" cy="958.44" r="5.5"/><circle cx="281.22" cy="960.24" r="5.5"/><circle cx="284.89" cy="966.69" r="5.5"/><circle cx="288.37" cy="975.07" r="5.5"/><circle cx="294.05" cy="940.3" r="5.5"/><circle cx="299.03" cy="931.58" r="5.5"/><circle cx="271.4" cy="985.16" r="5.5"/></g>
<g fill="#0000ff"><circle cx="272.21" cy="820.44" r="5.5"/><circle cx="267.77" cy="892.9" r="5.5"/><circle cx="268.45" cy="965.72" r="5.5"/><circle cx="295.25" cy="955.28" r="5.5"/><circle cx="282.55" cy="974.39" r="5.5"/><circle cx="273.32" cy="967.83" r="5.5"/><circle cx="282.37" cy="944.74" r="5.5"/><circle cx="289.47" cy="973.92" r="5.5"/><circle cx="266.87" cy="991.35" r="5.5"/><circle cx="241.34" cy="1035.3" r="5.5"/><circle cx="240.62" cy="1001.82" r="5.5"/><circle cx="266.43" cy="985.7" r="5.5"/><circle cx="274.66" cy="973.47" r="5.5"/><circle cx="267.98" cy="1002.73" r="5.5"/><circle cx="243.29" cy="1008.87" r="5.5"/><circle cx="268.24" cy="974.46" r="5.5"/><circle cx="272.92" cy="975.41" r="5.5"/><circle cx="271" cy="984.7" r="5.5"/><circle cx="264.36" cy="985.61" r="5.5"/><circle cx="257.58" cy="980.07" r="5.5"/><circle cx="260.94" cy="971.94" r="5.5"/><circle cx="258.36" cy="984.85" r="5.5"/><circle cx="261.08" cy="978.6" r="5.5"/><circle cx="258.27" cy="995.91" r="5.5"/><circle cx="261.64" cy="991.29" r="5.5"/><circle cx="262.36" cy="991.91" r="5.5"/><circle cx="259.31" cy="982.46" r="5.5"/><circle cx="262.31" cy="974.59" r="5.5"/><circle cx="259.39" cy="999.14" r="5.5"/><circle cx="259.63" cy="1003.97" r="5.5"/><circle cx="254.58" cy="997.73" r="5.5"/></g>
<polyline points="117,1101.54 571,717.28" fill="none" stroke="#000" stroke-width="1.6" stroke-linejoin="round" stroke-linecap="butt" stroke-dasharray="12 12.6" stroke-dashoffset="-3"/>
</g>
<rect x="117" y="662" width="454" height="454" fill="none" stroke="#000" stroke-width="2"/>
<path d="M211.5 1116v-8.3M211.5 662v8.3M307.5 1116v-8.3M307.5 662v8.3M402.5 1116v-8.3M402.5 662v8.3M497.5 1116v-8.3M497.5 662v8.3M117 1020.5h8.3M571 1020.5h-8.3M117 925.5h8.3M571 925.5h-8.3M117 830.5h8.3M571 830.5h-8.3M117 735.5h8.3M571 735.5h-8.3" stroke="#000" stroke-width="1" fill="none"/>
<text x="206.47" y="1137.9" font-size="17.67" textLength="9.77" lengthAdjust="spacingAndGlyphs" >0</text>
<text x="296.29" y="1137.9" font-size="17.67" textLength="20.53" lengthAdjust="spacingAndGlyphs" >20</text>
<text x="391.91" y="1137.9" font-size="17.67" textLength="20.43" lengthAdjust="spacingAndGlyphs" >40</text>
<text x="486.87" y="1137.9" font-size="17.67" textLength="20.6" lengthAdjust="spacingAndGlyphs" >60</text>
<text x="97.92" y="1025.37" font-size="17.67" textLength="9.77" lengthAdjust="spacingAndGlyphs" >0</text>
<text x="87.19" y="930.24" font-size="17.67" textLength="20.53" lengthAdjust="spacingAndGlyphs" >20</text>
<text x="87.29" y="835.11" font-size="17.67" textLength="20.43" lengthAdjust="spacingAndGlyphs" >40</text>
<text x="87.12" y="739.99" font-size="17.67" textLength="20.6" lengthAdjust="spacingAndGlyphs" >60</text>
<text x="283.97" y="651.7" font-size="24.38" textLength="120.13" lengthAdjust="spacingAndGlyphs" >WalenTest</text>
<text x="686.75" y="515.6" font-family="Liberation Serif" font-style="italic" font-size="18.19" textLength="9.71" lengthAdjust="spacingAndGlyphs" >λ</text>
<text x="695.28" y="519" font-family="Liberation Serif" font-size="12.74" >1</text>
<text x="704.7" y="515.6" font-family="Liberation Serif" font-style="italic" font-size="18.19" textLength="4.86" lengthAdjust="spacingAndGlyphs" >/</text>
<text x="714.43" y="515.6" font-family="Liberation Serif" font-style="italic" font-size="18.19" textLength="9.41" lengthAdjust="spacingAndGlyphs" >λ</text>
<text x="722.74" y="519" font-family="Liberation Serif" font-size="12.74" >2</text>
<text x="734.53" y="514.1" font-family="Liberation Serif" font-size="18.19" textLength="15.18" lengthAdjust="spacingAndGlyphs" >≈</text>
<text x="755.76" y="515.6" font-size="19.29" textLength="39.46" lengthAdjust="spacingAndGlyphs" >26.5</text>
<text x="1262.45" y="515.5" font-family="Liberation Serif" font-style="italic" font-size="18.19" textLength="9.71" lengthAdjust="spacingAndGlyphs" >λ</text>
<text x="1270.98" y="518.9" font-family="Liberation Serif" font-size="12.74" >1</text>
<text x="1280.4" y="515.5" font-family="Liberation Serif" font-style="italic" font-size="18.19" textLength="4.86" lengthAdjust="spacingAndGlyphs" >/</text>
<text x="1290.13" y="515.5" font-family="Liberation Serif" font-style="italic" font-size="18.19" textLength="9.41" lengthAdjust="spacingAndGlyphs" >λ</text>
<text x="1298.39" y="518.9" font-family="Liberation Serif" font-size="12.74" >3</text>
<text x="1310.23" y="514" font-family="Liberation Serif" font-size="18.19" textLength="15.18" lengthAdjust="spacingAndGlyphs" >≈</text>
<text x="1333.52" y="515.5" font-size="19.29" textLength="62.51" lengthAdjust="spacingAndGlyphs" >495.05</text>
<text x="686.95" y="1091.9" font-family="Liberation Serif" font-style="italic" font-size="18.19" textLength="9.71" lengthAdjust="spacingAndGlyphs" >λ</text>
<text x="695.48" y="1095.3" font-family="Liberation Serif" font-size="12.74" >1</text>
<text x="704.9" y="1091.9" font-family="Liberation Serif" font-style="italic" font-size="18.19" textLength="4.86" lengthAdjust="spacingAndGlyphs" >/</text>
<text x="714.63" y="1091.9" font-family="Liberation Serif" font-style="italic" font-size="18.19" textLength="9.41" lengthAdjust="spacingAndGlyphs" >λ</text>
<text x="722.94" y="1095.3" font-family="Liberation Serif" font-size="12.74" >2</text>
<text x="734.73" y="1090.4" font-family="Liberation Serif" font-size="18.19" textLength="15.18" lengthAdjust="spacingAndGlyphs" >≈</text>
<text x="756.1" y="1091.9" font-size="19.29" textLength="39.53" lengthAdjust="spacingAndGlyphs" >1.47</text>
<text x="1262.55" y="1091.9" font-family="Liberation Serif" font-style="italic" font-size="18.19" textLength="9.71" lengthAdjust="spacingAndGlyphs" >λ</text>
<text x="1271.08" y="1095.3" font-family="Liberation Serif" font-size="12.74" >1</text>
<text x="1280.5" y="1091.9" font-family="Liberation Serif" font-style="italic" font-size="18.19" textLength="4.86" lengthAdjust="spacingAndGlyphs" >/</text>
<text x="1290.23" y="1091.9" font-family="Liberation Serif" font-style="italic" font-size="18.19" textLength="9.41" lengthAdjust="spacingAndGlyphs" >λ</text>
<text x="1298.49" y="1095.3" font-family="Liberation Serif" font-size="12.74" >3</text>
<text x="1310.33" y="1090.4" font-family="Liberation Serif" font-size="18.19" textLength="15.18" lengthAdjust="spacingAndGlyphs" >≈</text>
<text x="1333.79" y="1091.9" font-size="19.29" textLength="50.76" lengthAdjust="spacingAndGlyphs" >50.15</text>
<text x="862.9" y="588.8" font-size="17.67" textLength="74.88" lengthAdjust="spacingAndGlyphs" >V2(km/s)</text>
<text x="1418.9" y="588.8" font-size="17.67" textLength="74.88" lengthAdjust="spacingAndGlyphs" >V3(km/s)</text>
<text x="862.9" y="1166.8" font-size="17.67" textLength="74.88" lengthAdjust="spacingAndGlyphs" >V2(km/s)</text>
<text x="1418.9" y="1166.8" font-size="17.67" textLength="74.88" lengthAdjust="spacingAndGlyphs" >V3(km/s)</text>
<text x="307.43" y="1167.9" font-size="17.67" textLength="10.44" lengthAdjust="spacingAndGlyphs" >V</text>
<text x="320.53" y="1169.8" font-family="Liberation Serif" font-style="italic" font-size="11.67" textLength="7.03" lengthAdjust="spacingAndGlyphs" >A</text>
<text x="327.72" y="1167.9" font-size="17.67" textLength="52.68" lengthAdjust="spacingAndGlyphs" >(km/s)</text>
<text transform="translate(614,313.8) rotate(-90)" x="-36.9" y="0" font-size="17.67" textLength="74.88" lengthAdjust="spacingAndGlyphs" >V1(km/s)</text>
<text transform="translate(1170,313.8) rotate(-90)" x="-36.9" y="0" font-size="17.67" textLength="74.88" lengthAdjust="spacingAndGlyphs" >V1(km/s)</text>
<text transform="translate(614,890.7) rotate(-90)" x="-36.9" y="0" font-size="17.67" textLength="74.88" lengthAdjust="spacingAndGlyphs" >V1(km/s)</text>
<text transform="translate(1170,890.7) rotate(-90)" x="-36.9" y="0" font-size="17.67" textLength="74.88" lengthAdjust="spacingAndGlyphs" >V1(km/s)</text>
<g transform="translate(68.9,949.5) rotate(-90)">
<text x="-0.07" y="0" font-size="17.67" textLength="10.74" lengthAdjust="spacingAndGlyphs" >V</text>
<text x="11.55" y="1.8" font-family="Liberation Serif" font-style="italic" font-size="11.67" textLength="55.34" lengthAdjust="spacingAndGlyphs" >remaining</text>
<text x="66.52" y="0" font-size="17.67" textLength="52.68" lengthAdjust="spacingAndGlyphs" >(km/s)</text>
</g>
<text x="677.83" y="649.2" font-size="24.38" textLength="281.23" lengthAdjust="spacingAndGlyphs" >Hodogram (V2_V1 MVAV</text>
<text x="959.98" y="652.7" font-family="Liberation Serif" font-style="italic" font-size="16.11" textLength="77.82" lengthAdjust="spacingAndGlyphs" >remaining</text>
<text x="1045.2" y="649.2" font-size="24.38" textLength="76.69" lengthAdjust="spacingAndGlyphs" >frame)</text>
<text x="1233.83" y="649.2" font-size="24.38" textLength="281.23" lengthAdjust="spacingAndGlyphs" >Hodogram (V3_V1 MVAV</text>
<text x="1515.98" y="652.7" font-family="Liberation Serif" font-style="italic" font-size="16.11" textLength="77.82" lengthAdjust="spacingAndGlyphs" >remaining</text>
<text x="1601.2" y="649.2" font-size="24.38" textLength="76.69" lengthAdjust="spacingAndGlyphs" >frame)</text>
<rect x="125" y="669" width="138" height="71.4" fill="#fff" stroke="#000" stroke-width="2"/>
<text x="128.1" y="686.5" font-size="19.88" textLength="130.44" lengthAdjust="spacingAndGlyphs" >slope = 0.848</text>
<text x="128.64" y="708.7" font-family="Liberation Serif" font-style="italic" font-size="18.75" textLength="8.3" lengthAdjust="spacingAndGlyphs" >r</text>
<text x="143.23" y="708.7" font-size="19.88" textLength="73.65" lengthAdjust="spacingAndGlyphs" >= 0.962</text>
<text x="130.34" y="730.9" font-family="Liberation Serif" font-style="italic" font-size="18.75" textLength="17.02" lengthAdjust="spacingAndGlyphs" >M</text>
<text x="148.49" y="733.8" font-family="Liberation Serif" font-style="italic" font-size="13.12" textLength="7.76" lengthAdjust="spacingAndGlyphs" >A</text>
<text x="164.93" y="730.9" font-size="19.88" textLength="74.03" lengthAdjust="spacingAndGlyphs" >= 0.864</text>
<rect x="1007" y="91" width="113" height="60" fill="#fff" stroke="#000" stroke-width="2"/>
<path d="M1017.4 107.3H1037.5" stroke="#0000ff" stroke-width="2"/><path d="M1017.4 133.5H1037.5" stroke="#ff0000" stroke-width="2"/>
<g fill="#0000ff"><circle cx="1017.4" cy="107.3" r="3.6"/><circle cx="1037.5" cy="107.3" r="3.6"/></g>
<g fill="#ff0000"><circle cx="1017.4" cy="133.5" r="3.6"/><circle cx="1037.5" cy="133.5" r="3.6"/></g>
<text x="1053.71" y="111.3" font-size="16.19" textLength="14.91" lengthAdjust="spacingAndGlyphs" >B/</text>
<path d="M1069.6 103.5L1072.3 102.2L1075.2 113.3L1079.8 99.5H1107.8" fill="none" stroke="#000" stroke-width="0.9"/>
<text x="1082.32" y="110.8" font-family="Liberation Serif" font-style="italic" font-size="15.28" textLength="8.01" lengthAdjust="spacingAndGlyphs" >μ</text>
<text x="1090.24" y="113.2" font-family="Liberation Serif" font-style="italic" font-size="10.69" textLength="4.68" lengthAdjust="spacingAndGlyphs" >0</text>
<text x="1096.93" y="110.8" font-family="Liberation Serif" font-style="italic" font-size="15.28" textLength="8.08" lengthAdjust="spacingAndGlyphs" >ρ</text>
<text x="1054.03" y="138.1" font-size="16.19" textLength="9.97" lengthAdjust="spacingAndGlyphs" >V</text>
<text x="1064.13" y="139.5" font-family="Liberation Serif" font-style="italic" font-size="11.11" textLength="48.12" lengthAdjust="spacingAndGlyphs" >remaining</text>
<rect x="1563" y="91" width="113" height="60" fill="#fff" stroke="#000" stroke-width="2"/>
<path d="M1573.4 107.3H1593.5" stroke="#0000ff" stroke-width="2"/><path d="M1573.4 133.5H1593.5" stroke="#ff0000" stroke-width="2"/>
<g fill="#0000ff"><circle cx="1573.4" cy="107.3" r="3.6"/><circle cx="1593.5" cy="107.3" r="3.6"/></g>
<g fill="#ff0000"><circle cx="1573.4" cy="133.5" r="3.6"/><circle cx="1593.5" cy="133.5" r="3.6"/></g>
<text x="1609.71" y="111.3" font-size="16.19" textLength="14.91" lengthAdjust="spacingAndGlyphs" >B/</text>
<path d="M1625.6 103.5L1628.3 102.2L1631.2 113.3L1635.8 99.5H1663.8" fill="none" stroke="#000" stroke-width="0.9"/>
<text x="1638.32" y="110.8" font-family="Liberation Serif" font-style="italic" font-size="15.28" textLength="8.01" lengthAdjust="spacingAndGlyphs" >μ</text>
<text x="1646.24" y="113.2" font-family="Liberation Serif" font-style="italic" font-size="10.69" textLength="4.68" lengthAdjust="spacingAndGlyphs" >0</text>
<text x="1652.93" y="110.8" font-family="Liberation Serif" font-style="italic" font-size="15.28" textLength="8.08" lengthAdjust="spacingAndGlyphs" >ρ</text>
<text x="1610.03" y="138.1" font-size="16.19" textLength="9.97" lengthAdjust="spacingAndGlyphs" >V</text>
<text x="1620.13" y="139.5" font-family="Liberation Serif" font-style="italic" font-size="11.11" textLength="48.12" lengthAdjust="spacingAndGlyphs" >remaining</text>
<clipPath id="c_ts0"><rect x="117" y="1305" width="1566" height="222"/></clipPath>
<g clip-path="url(#c_ts0)">
<path d="M117 1400.5H1683" stroke="#000" stroke-width="1.25" stroke-dasharray="12.9 12.1"/>
<polyline points="117,1502.85 169.2,1502.85 221.4,1504.11 273.6,1511.41 325.8,1509.19 378,1504.43 430.2,1509.19 482.4,1512.04 534.6,1504.11 586.8,1495.55 639,1498.41 691.2,1504.75 743.4,1506.02 795.6,1505.38 847.8,1498.41 900,1505.7 952.2,1504.75 1004.4,1507.29 1056.6,1506.02 1108.8,1504.11 1161,1505.38 1213.2,1505.38 1265.4,1506.02 1317.6,1505.07 1369.8,1505.7 1422,1506.97 1474.2,1505.7 1526.4,1506.97 1578.6,1505.07 1630.8,1505.07 1683,1503.16" fill="none" stroke="#ff0000" stroke-width="2.0" stroke-linejoin="round" stroke-linecap="butt"/>
<polyline points="117,1327.78 169.2,1327.78 221.4,1329.05 273.6,1335.71 325.8,1331.91 378,1330.64 430.2,1328.1 482.4,1329.37 534.6,1328.1 586.8,1321.76 639,1313.83 691.2,1326.2 743.4,1328.73 795.6,1326.83 847.8,1315.73 900,1324.93 952.2,1332.22 1004.4,1322.39 1056.6,1314.46 1108.8,1310.66 1161,1311.61 1213.2,1309.71 1265.4,1310.66 1317.6,1308.75 1369.8,1310.02 1422,1308.75 1474.2,1307.8 1526.4,1308.12 1578.6,1307.8 1630.8,1307.49 1683,1309.07" fill="none" stroke="#008000" stroke-width="2.0" stroke-linejoin="round" stroke-linecap="butt"/>
<polyline points="117,1345.54 169.2,1346.18 221.4,1347.13 273.6,1343.64 325.8,1349.03 378,1345.54 430.2,1351.25 482.4,1358.86 534.6,1346.18 586.8,1340.47 639,1357.59 691.2,1349.03 743.4,1349.67 795.6,1350.62 847.8,1356.01 900,1356.96 952.2,1345.54 1004.4,1362.35 1056.6,1382.33 1108.8,1386.14 1161,1387.88 1213.2,1386.77 1265.4,1386.45 1317.6,1391.85 1369.8,1391.85 1422,1394.38 1474.2,1395.65 1526.4,1397.55 1578.6,1400.09 1630.8,1402.31 1683,1390.26" fill="none" stroke="#0000ff" stroke-width="2.0" stroke-linejoin="round" stroke-linecap="butt"/>
</g>
<rect x="117" y="1305" width="1566" height="222" fill="none" stroke="#000" stroke-width="2"/>
<path d="M117.5 1527v-8.3M117.5 1305v8.3M378.5 1527v-8.3M378.5 1305v8.3M639.5 1527v-8.3M639.5 1305v8.3M900.5 1527v-8.3M900.5 1305v8.3M1161.5 1527v-8.3M1161.5 1305v8.3M1422.5 1527v-8.3M1422.5 1305v8.3M1683.5 1527v-8.3M1683.5 1305v8.3M117 1527.5h8.3M1683 1527.5h-8.3M117 1496.5h8.3M1683 1496.5h-8.3M117 1464.5h8.3M1683 1464.5h-8.3M117 1432.5h8.3M1683 1432.5h-8.3M117 1401.5h8.3M1683 1401.5h-8.3M117 1369.5h8.3M1683 1369.5h-8.3M117 1337.5h8.3M1683 1337.5h-8.3M117 1305.5h8.3M1683 1305.5h-8.3" stroke="#000" stroke-width="1" fill="none"/>
<text x="52.89" y="1549.8" font-size="17.67" textLength="127.6" lengthAdjust="spacingAndGlyphs" >10/03 19:31:26</text>
<text x="313.89" y="1549.8" font-size="17.67" textLength="127.6" lengthAdjust="spacingAndGlyphs" >10/03 19:31:36</text>
<text x="574.89" y="1549.8" font-size="17.67" textLength="127.6" lengthAdjust="spacingAndGlyphs" >10/03 19:31:46</text>
<text x="835.89" y="1549.8" font-size="17.67" textLength="127.6" lengthAdjust="spacingAndGlyphs" >10/03 19:31:56</text>
<text x="1096.89" y="1549.8" font-size="17.67" textLength="127.6" lengthAdjust="spacingAndGlyphs" >10/03 19:32:06</text>
<text x="1357.89" y="1549.8" font-size="17.67" textLength="127.6" lengthAdjust="spacingAndGlyphs" >10/03 19:32:16</text>
<text x="1618.89" y="1549.8" font-size="17.67" textLength="127.6" lengthAdjust="spacingAndGlyphs" >10/03 19:32:26</text>
<text x="73.71" y="1532.4" font-size="17.67" textLength="34.08" lengthAdjust="spacingAndGlyphs" >−40</text>
<text x="73.71" y="1500.69" font-size="17.67" textLength="34.08" lengthAdjust="spacingAndGlyphs" >−30</text>
<text x="73.71" y="1468.97" font-size="17.67" textLength="34.08" lengthAdjust="spacingAndGlyphs" >−20</text>
<text x="73.71" y="1437.26" font-size="17.67" textLength="34.08" lengthAdjust="spacingAndGlyphs" >−10</text>
<text x="97.92" y="1405.54" font-size="17.67" textLength="9.77" lengthAdjust="spacingAndGlyphs" >0</text>
<text x="87.33" y="1373.83" font-size="17.67" textLength="20.38" lengthAdjust="spacingAndGlyphs" >10</text>
<text x="87.19" y="1342.11" font-size="17.67" textLength="20.53" lengthAdjust="spacingAndGlyphs" >20</text>
<text x="87.48" y="1310.4" font-size="17.67" textLength="20.23" lengthAdjust="spacingAndGlyphs" >30</text>
<text x="739.78" y="1294.7" font-size="24.38" textLength="319.93" lengthAdjust="spacingAndGlyphs" >Magnetic Field (RTN Frame)</text>
<clipPath id="c_ts1"><rect x="117" y="1639" width="1566" height="222"/></clipPath>
<g clip-path="url(#c_ts1)">
<path d="M117 1824.5H1683" stroke="#000" stroke-width="1.25" stroke-dasharray="12.9 12.1"/>
<polyline points="117,1668.39 169.2,1668.95 221.4,1669.5 273.6,1668.02 325.8,1668.39 378,1669.87 430.2,1666.17 482.4,1667.28 534.6,1668.39 586.8,1668.02 639,1664.32 691.2,1667.28 743.4,1668.39 795.6,1667.28 847.8,1665.06 900,1668.02 952.2,1670.61 1004.4,1666.17 1056.6,1663.95 1108.8,1663.95 1161,1665.25 1213.2,1664.32 1265.4,1664.32 1317.6,1665.43 1369.8,1666.17 1422,1665.43 1474.2,1665.8 1526.4,1665.8 1578.6,1667.65 1630.8,1668.02 1683,1666.17" fill="none" stroke="#ff0000" stroke-width="2.0" stroke-linejoin="round" stroke-linecap="butt"/>
<polyline points="117,1852.28 169.2,1851.36 221.4,1850.43 273.6,1856.72 325.8,1848.95 378,1852.65 430.2,1845.62 482.4,1837.48 534.6,1850.43 586.8,1855.61 639,1833.04 691.2,1847.47 743.4,1847.47 795.6,1845.99 847.8,1836.37 900,1838.96 952.2,1853.76 1004.4,1830.08 1056.6,1804.92 1108.8,1799.74 1161,1798.63 1213.2,1799.37 1265.4,1799.74 1317.6,1793.08 1369.8,1793.45 1422,1790.49 1474.2,1788.64 1526.4,1787.53 1578.6,1785.31 1630.8,1781.24 1683,1794.93" fill="none" stroke="#008000" stroke-width="2.0" stroke-linejoin="round" stroke-linecap="butt"/>
<polyline points="117,1798.63 169.2,1798.63 221.4,1796.41 273.6,1785.68 325.8,1789.75 378,1794.93 430.2,1791.23 482.4,1786.42 534.6,1796.41 586.8,1810.1 639,1810.1 691.2,1797.15 743.4,1793.82 795.6,1795.67 847.8,1809.36 900,1795.67 952.2,1793.45 1004.4,1795.67 1056.6,1800.11 1108.8,1803.81 1161,1801.04 1213.2,1801.22 1265.4,1800.48 1317.6,1801.59 1369.8,1800.11 1422,1799.74 1474.2,1800.48 1526.4,1799.37 1578.6,1800.48 1630.8,1800.11 1683,1803.44" fill="none" stroke="#0000ff" stroke-width="2.0" stroke-linejoin="round" stroke-linecap="butt"/>
<polyline points="117,1663.95 169.2,1664.32 221.4,1664.69 273.6,1659.88 325.8,1662.1 378,1664.32 430.2,1660.99 482.4,1661.73 534.6,1663.58 586.8,1663.95 639,1663.21 691.2,1662.84 743.4,1663.95 795.6,1663.58 847.8,1664.32 900,1664.69 952.2,1664.69 1004.4,1663.21 1056.6,1661.36 1108.8,1661.36 1161,1661.73 1213.2,1661.36 1265.4,1661.36 1317.6,1661.36 1369.8,1662.1 1422,1660.62 1474.2,1660.62 1526.4,1659.51 1578.6,1660.99 1630.8,1660.62 1683,1662.47" fill="none" stroke="#000000" stroke-width="2.0" stroke-linejoin="round" stroke-linecap="butt"/>
</g>
<rect x="117" y="1639" width="1566" height="222" fill="none" stroke="#000" stroke-width="2"/>
<path d="M117.5 1861v-8.3M117.5 1639v8.3M378.5 1861v-8.3M378.5 1639v8.3M639.5 1861v-8.3M639.5 1639v8.3M900.5 1861v-8.3M900.5 1639v8.3M1161.5 1861v-8.3M1161.5 1639v8.3M1422.5 1861v-8.3M1422.5 1639v8.3M1683.5 1861v-8.3M1683.5 1639v8.3M117 1861.5h8.3M1683 1861.5h-8.3M117 1824.5h8.3M1683 1824.5h-8.3M117 1787.5h8.3M1683 1787.5h-8.3M117 1750.5h8.3M1683 1750.5h-8.3M117 1713.5h8.3M1683 1713.5h-8.3M117 1676.5h8.3M1683 1676.5h-8.3M117 1639.5h8.3M1683 1639.5h-8.3" stroke="#000" stroke-width="1" fill="none"/>
<text x="52.89" y="1883.8" font-size="17.67" textLength="127.6" lengthAdjust="spacingAndGlyphs" >10/03 19:31:26</text>
<text x="313.89" y="1883.8" font-size="17.67" textLength="127.6" lengthAdjust="spacingAndGlyphs" >10/03 19:31:36</text>
<text x="574.89" y="1883.8" font-size="17.67" textLength="127.6" lengthAdjust="spacingAndGlyphs" >10/03 19:31:46</text>
<text x="835.89" y="1883.8" font-size="17.67" textLength="127.6" lengthAdjust="spacingAndGlyphs" >10/03 19:31:56</text>
<text x="1096.89" y="1883.8" font-size="17.67" textLength="127.6" lengthAdjust="spacingAndGlyphs" >10/03 19:32:06</text>
<text x="1357.89" y="1883.8" font-size="17.67" textLength="127.6" lengthAdjust="spacingAndGlyphs" >10/03 19:32:16</text>
<text x="1618.89" y="1883.8" font-size="17.67" textLength="127.6" lengthAdjust="spacingAndGlyphs" >10/03 19:32:26</text>
<text x="73.71" y="1866.4" font-size="17.67" textLength="34.08" lengthAdjust="spacingAndGlyphs" >−10</text>
<text x="97.92" y="1829.4" font-size="17.67" textLength="9.77" lengthAdjust="spacingAndGlyphs" >0</text>
<text x="87.33" y="1792.4" font-size="17.67" textLength="20.38" lengthAdjust="spacingAndGlyphs" >10</text>
<text x="87.19" y="1755.4" font-size="17.67" textLength="20.53" lengthAdjust="spacingAndGlyphs" >20</text>
<text x="87.48" y="1718.4" font-size="17.67" textLength="20.23" lengthAdjust="spacingAndGlyphs" >30</text>
<text x="87.29" y="1681.4" font-size="17.67" textLength="20.43" lengthAdjust="spacingAndGlyphs" >40</text>
<text x="87.46" y="1644.4" font-size="17.67" textLength="20.26" lengthAdjust="spacingAndGlyphs" >50</text>
<text x="706.42" y="1628.7" font-size="24.38" textLength="386.65" lengthAdjust="spacingAndGlyphs" >Magnetic Field (Flux Rope Frame)</text>
<clipPath id="c_ts2"><rect x="117" y="1972" width="1566" height="222"/></clipPath>
<g clip-path="url(#c_ts2)">
<polyline points="117,2000.5 169.2,1999.39 221.4,1998.21 273.6,1995.54 325.8,1996.36 378,1997.84 430.2,1995.54 482.4,1997.47 534.6,1994.43 586.8,1991.77 639,1995.17 691.2,1997.47 743.4,1997.47 795.6,1994.43 847.8,1994.43 900,1997.84 952.2,1996.36 1004.4,1998.58 1056.6,1995.54 1108.8,1996.65 1161,1997.17 1213.2,1996.88 1265.4,1997.62 1317.6,1996.88 1369.8,1995.77 1422,1995.03 1474.2,1996.14 1526.4,1997.32 1578.6,1994.58 1630.8,1995.77 1683,1995.03" fill="none" stroke="#ff0000" stroke-width="2.0" stroke-linejoin="round" stroke-linecap="butt"/>
<polyline points="117,2167 169.2,2154.16 221.4,2141.32 273.6,2147.69 325.8,2141.32 378,2141.32 430.2,2148.87 482.4,2139.03 534.6,2140.88 586.8,2132.3 639,2134.74 691.2,2136.81 743.4,2140.58 795.6,2136.81 847.8,2133.78 900,2139.03 952.2,2140.58 1004.4,2136 1056.6,2136 1108.8,2135.26 1161,2137.03 1213.2,2134.59 1265.4,2134.96 1317.6,2131.48 1369.8,2133.48 1422,2134.22 1474.2,2135.4 1526.4,2136.22 1578.6,2132.3 1630.8,2129.56 1683,2133.85" fill="none" stroke="#008000" stroke-width="2.0" stroke-linejoin="round" stroke-linecap="butt"/>
<polyline points="117,2180.25 169.2,2165.49 221.4,2150.72 273.6,2148.5 325.8,2151.09 378,2150.43 430.2,2154.13 482.4,2155.31 534.6,2145.47 586.8,2149.17 639,2155.98 691.2,2152.57 743.4,2149.61 795.6,2150.43 847.8,2156.42 900,2153.02 952.2,2153.02 1004.4,2151.46 1056.6,2165.08 1108.8,2168.11 1161,2166.56 1213.2,2165 1265.4,2166.11 1317.6,2166.48 1369.8,2168.41 1422,2168.41 1474.2,2167.67 1526.4,2166.48 1578.6,2171.07 1630.8,2171.52 1683,2164.19" fill="none" stroke="#0000ff" stroke-width="2.0" stroke-linejoin="round" stroke-linecap="butt"/>
</g>
<rect x="117" y="1972" width="1566" height="222" fill="none" stroke="#000" stroke-width="2"/>
<path d="M117.5 2194v-8.3M117.5 1972v8.3M378.5 2194v-8.3M378.5 1972v8.3M639.5 2194v-8.3M639.5 1972v8.3M900.5 2194v-8.3M900.5 1972v8.3M1161.5 2194v-8.3M1161.5 1972v8.3M1422.5 2194v-8.3M1422.5 1972v8.3M1683.5 2194v-8.3M1683.5 1972v8.3M117 2194.5h8.3M1683 2194.5h-8.3M117 2157.5h8.3M1683 2157.5h-8.3M117 2120.5h8.3M1683 2120.5h-8.3M117 2083.5h8.3M1683 2083.5h-8.3M117 2046.5h8.3M1683 2046.5h-8.3M117 2009.5h8.3M1683 2009.5h-8.3M117 1972.5h8.3M1683 1972.5h-8.3" stroke="#000" stroke-width="1" fill="none"/>
<text x="52.89" y="2216.8" font-size="17.67" textLength="127.6" lengthAdjust="spacingAndGlyphs" >10/03 19:31:26</text>
<text x="313.89" y="2216.8" font-size="17.67" textLength="127.6" lengthAdjust="spacingAndGlyphs" >10/03 19:31:36</text>
<text x="574.89" y="2216.8" font-size="17.67" textLength="127.6" lengthAdjust="spacingAndGlyphs" >10/03 19:31:46</text>
<text x="835.89" y="2216.8" font-size="17.67" textLength="127.6" lengthAdjust="spacingAndGlyphs" >10/03 19:31:56</text>
<text x="1096.89" y="2216.8" font-size="17.67" textLength="127.6" lengthAdjust="spacingAndGlyphs" >10/03 19:32:06</text>
<text x="1357.89" y="2216.8" font-size="17.67" textLength="127.6" lengthAdjust="spacingAndGlyphs" >10/03 19:32:16</text>
<text x="1618.89" y="2216.8" font-size="17.67" textLength="127.6" lengthAdjust="spacingAndGlyphs" >10/03 19:32:26</text>
<text x="73.71" y="2199.4" font-size="17.67" textLength="34.08" lengthAdjust="spacingAndGlyphs" >−50</text>
<text x="97.92" y="2162.4" font-size="17.67" textLength="9.77" lengthAdjust="spacingAndGlyphs" >0</text>
<text x="87.46" y="2125.4" font-size="17.67" textLength="20.26" lengthAdjust="spacingAndGlyphs" >50</text>
<text x="76.71" y="2088.4" font-size="17.67" textLength="31.02" lengthAdjust="spacingAndGlyphs" >100</text>
<text x="76.71" y="2051.4" font-size="17.67" textLength="31.02" lengthAdjust="spacingAndGlyphs" >150</text>
<text x="76.58" y="2014.4" font-size="17.67" textLength="31.15" lengthAdjust="spacingAndGlyphs" >200</text>
<text x="76.58" y="1977.4" font-size="17.67" textLength="31.15" lengthAdjust="spacingAndGlyphs" >250</text>
<text x="712.25" y="1961.7" font-size="24.38" textLength="375.92" lengthAdjust="spacingAndGlyphs" >Solar Wind Velocity (RTN Frame)</text>
<clipPath id="c_ts3"><rect x="117" y="2306" width="1566" height="222"/></clipPath>
<g clip-path="url(#c_ts3)">
<polyline points="117,2521.1 169.2,2433.19 221.4,2321.11 273.6,2388.72 325.8,2326.82 378,2355.61 430.2,2364.94 482.4,2341.79 534.6,2320.98 586.8,2346.99 639,2357.26 691.2,2335.44 743.4,2358.53 795.6,2306.9 847.8,2360.62 900,2314.38 952.2,2312.61 1004.4,2310.52 1056.6,2355.17 1108.8,2368.81 1161,2367.98 1213.2,2373.5 1265.4,2376.04 1317.6,2372.23 1369.8,2376.93 1422,2374.13 1474.2,2376.93 1526.4,2364.3 1578.6,2358.28 1630.8,2359.99 1683,2370.9" fill="none" stroke="#0000ff" stroke-width="2.0" stroke-linejoin="round" stroke-linecap="butt"/>
</g>
<rect x="117" y="2306" width="1566" height="222" fill="none" stroke="#000" stroke-width="2"/>
<path d="M117.5 2528v-8.3M117.5 2306v8.3M378.5 2528v-8.3M378.5 2306v8.3M639.5 2528v-8.3M639.5 2306v8.3M900.5 2528v-8.3M900.5 2306v8.3M1161.5 2528v-8.3M1161.5 2306v8.3M1422.5 2528v-8.3M1422.5 2306v8.3M1683.5 2528v-8.3M1683.5 2306v8.3M117 2528.5h8.3M1683 2528.5h-8.3M117 2497.5h8.3M1683 2497.5h-8.3M117 2465.5h8.3M1683 2465.5h-8.3M117 2433.5h8.3M1683 2433.5h-8.3M117 2402.5h8.3M1683 2402.5h-8.3M117 2370.5h8.3M1683 2370.5h-8.3M117 2338.5h8.3M1683 2338.5h-8.3M117 2306.5h8.3M1683 2306.5h-8.3" stroke="#000" stroke-width="1" fill="none"/>
<text x="52.89" y="2550.8" font-size="17.67" textLength="127.6" lengthAdjust="spacingAndGlyphs" >10/03 19:31:26</text>
<text x="313.89" y="2550.8" font-size="17.67" textLength="127.6" lengthAdjust="spacingAndGlyphs" >10/03 19:31:36</text>
<text x="574.89" y="2550.8" font-size="17.67" textLength="127.6" lengthAdjust="spacingAndGlyphs" >10/03 19:31:46</text>
<text x="835.89" y="2550.8" font-size="17.67" textLength="127.6" lengthAdjust="spacingAndGlyphs" >10/03 19:31:56</text>
<text x="1096.89" y="2550.8" font-size="17.67" textLength="127.6" lengthAdjust="spacingAndGlyphs" >10/03 19:32:06</text>
<text x="1357.89" y="2550.8" font-size="17.67" textLength="127.6" lengthAdjust="spacingAndGlyphs" >10/03 19:32:16</text>
<text x="1618.89" y="2550.8" font-size="17.67" textLength="127.6" lengthAdjust="spacingAndGlyphs" >10/03 19:32:26</text>
<text x="71.72" y="2533.4" font-size="17.67" textLength="36.06" lengthAdjust="spacingAndGlyphs" >0.05</text>
<text x="71.37" y="2501.69" font-size="17.67" textLength="36.36" lengthAdjust="spacingAndGlyphs" >0.10</text>
<text x="71.72" y="2469.97" font-size="17.67" textLength="36.06" lengthAdjust="spacingAndGlyphs" >0.15</text>
<text x="71.37" y="2438.26" font-size="17.67" textLength="36.36" lengthAdjust="spacingAndGlyphs" >0.20</text>
<text x="71.72" y="2406.54" font-size="17.67" textLength="36.06" lengthAdjust="spacingAndGlyphs" >0.25</text>
<text x="71.37" y="2374.83" font-size="17.67" textLength="36.36" lengthAdjust="spacingAndGlyphs" >0.30</text>
<text x="71.72" y="2343.11" font-size="17.67" textLength="36.06" lengthAdjust="spacingAndGlyphs" >0.35</text>
<text x="71.37" y="2311.4" font-size="17.67" textLength="36.36" lengthAdjust="spacingAndGlyphs" >0.40</text>
<text x="828.54" y="2295.7" font-size="24.38" textLength="140.88" lengthAdjust="spacingAndGlyphs" >Plasma Beta</text>
<clipPath id="c_ts4"><rect x="117" y="2639" width="1566" height="222"/></clipPath>
<g clip-path="url(#c_ts4)">
<polyline points="117,2837.48 169.2,2755.97 221.4,2674.15 273.6,2753.12 325.8,2678.27 378,2725.53 430.2,2756.61 482.4,2708.72 534.6,2677.96 586.8,2723.94 639,2703.96 691.2,2681.76 743.4,2720.45 795.6,2657.03 847.8,2719.5 900,2660.2 952.2,2659.56 1004.4,2696.03 1056.6,2694.45 1108.8,2717.6 1161,2691.59 1213.2,2708.72 1265.4,2714.75 1317.6,2708.4 1369.8,2715.7 1422,2700.47 1474.2,2705.23 1526.4,2693.18 1578.6,2693.81 1630.8,2690.64 1683,2705.87" fill="none" stroke="#0000ff" stroke-width="2.0" stroke-linejoin="round" stroke-linecap="butt"/>
</g>
<rect x="117" y="2639" width="1566" height="222" fill="none" stroke="#000" stroke-width="2"/>
<path d="M117.5 2861v-8.3M117.5 2639v8.3M378.5 2861v-8.3M378.5 2639v8.3M639.5 2861v-8.3M639.5 2639v8.3M900.5 2861v-8.3M900.5 2639v8.3M1161.5 2861v-8.3M1161.5 2639v8.3M1422.5 2861v-8.3M1422.5 2639v8.3M1683.5 2861v-8.3M1683.5 2639v8.3M117 2861.5h8.3M1683 2861.5h-8.3M117 2830.5h8.3M1683 2830.5h-8.3M117 2798.5h8.3M1683 2798.5h-8.3M117 2766.5h8.3M1683 2766.5h-8.3M117 2735.5h8.3M1683 2735.5h-8.3M117 2703.5h8.3M1683 2703.5h-8.3M117 2671.5h8.3M1683 2671.5h-8.3M117 2639.5h8.3M1683 2639.5h-8.3" stroke="#000" stroke-width="1" fill="none"/>
<text x="52.89" y="2883.8" font-size="17.67" textLength="127.6" lengthAdjust="spacingAndGlyphs" >10/03 19:31:26</text>
<text x="313.89" y="2883.8" font-size="17.67" textLength="127.6" lengthAdjust="spacingAndGlyphs" >10/03 19:31:36</text>
<text x="574.89" y="2883.8" font-size="17.67" textLength="127.6" lengthAdjust="spacingAndGlyphs" >10/03 19:31:46</text>
<text x="835.89" y="2883.8" font-size="17.67" textLength="127.6" lengthAdjust="spacingAndGlyphs" >10/03 19:31:56</text>
<text x="1096.89" y="2883.8" font-size="17.67" textLength="127.6" lengthAdjust="spacingAndGlyphs" >10/03 19:32:06</text>
<text x="1357.89" y="2883.8" font-size="17.67" textLength="127.6" lengthAdjust="spacingAndGlyphs" >10/03 19:32:16</text>
<text x="1618.89" y="2883.8" font-size="17.67" textLength="127.6" lengthAdjust="spacingAndGlyphs" >10/03 19:32:26</text>
<text x="76.71" y="2866.4" font-size="17.67" textLength="31.02" lengthAdjust="spacingAndGlyphs" >140</text>
<text x="76.71" y="2834.69" font-size="17.67" textLength="31.02" lengthAdjust="spacingAndGlyphs" >150</text>
<text x="76.71" y="2802.97" font-size="17.67" textLength="31.02" lengthAdjust="spacingAndGlyphs" >160</text>
<text x="76.71" y="2771.26" font-size="17.67" textLength="31.02" lengthAdjust="spacingAndGlyphs" >170</text>
<text x="76.71" y="2739.54" font-size="17.67" textLength="31.02" lengthAdjust="spacingAndGlyphs" >180</text>
<text x="76.71" y="2707.83" font-size="17.67" textLength="31.02" lengthAdjust="spacingAndGlyphs" >190</text>
<text x="76.58" y="2676.11" font-size="17.67" textLength="31.15" lengthAdjust="spacingAndGlyphs" >200</text>
<text x="76.58" y="2644.4" font-size="17.67" textLength="31.15" lengthAdjust="spacingAndGlyphs" >210</text>
<text x="764.59" y="2628.7" font-size="24.38" textLength="268.75" lengthAdjust="spacingAndGlyphs" >Proton Number Density</text>
<clipPath id="c_ts5"><rect x="117" y="2973" width="1566" height="222"/></clipPath>
<g clip-path="url(#c_ts5)">
<polyline points="117,3190.57 169.2,3102.66 221.4,3015.64 273.6,3044.94 325.8,3012.53 378,3029.62 430.2,3019.85 482.4,3015.19 534.6,3010.75 586.8,3020.96 639,3036.5 691.2,3021.63 743.4,3032.95 795.6,3005.2 847.8,3036.5 900,3014.53 952.2,3013.42 1004.4,2993.44 1056.6,3033.17 1108.8,3038.5 1161,3046.27 1213.2,3045.61 1265.4,3046.05 1317.6,3044.05 1369.8,3048.05 1422,3046.27 1474.2,3047.6 1526.4,3037.61 1578.6,3034.51 1630.8,3035.62 1683,3047.16" fill="none" stroke="#0000ff" stroke-width="2.0" stroke-linejoin="round" stroke-linecap="butt"/>
</g>
<rect x="117" y="2973" width="1566" height="222" fill="none" stroke="#000" stroke-width="2"/>
<path d="M117.5 3195v-8.3M117.5 2973v8.3M378.5 3195v-8.3M378.5 2973v8.3M639.5 3195v-8.3M639.5 2973v8.3M900.5 3195v-8.3M900.5 2973v8.3M1161.5 3195v-8.3M1161.5 2973v8.3M1422.5 3195v-8.3M1422.5 2973v8.3M1683.5 3195v-8.3M1683.5 2973v8.3M117 3195.5h8.3M1683 3195.5h-8.3M117 3151.5h8.3M1683 3151.5h-8.3M117 3107.5h8.3M1683 3107.5h-8.3M117 3062.5h8.3M1683 3062.5h-8.3M117 3018.5h8.3M1683 3018.5h-8.3M117 2973.5h8.3M1683 2973.5h-8.3" stroke="#000" stroke-width="1" fill="none"/>
<text x="52.89" y="3217.8" font-size="17.67" textLength="127.6" lengthAdjust="spacingAndGlyphs" >10/03 19:31:26</text>
<text x="313.89" y="3217.8" font-size="17.67" textLength="127.6" lengthAdjust="spacingAndGlyphs" >10/03 19:31:36</text>
<text x="574.89" y="3217.8" font-size="17.67" textLength="127.6" lengthAdjust="spacingAndGlyphs" >10/03 19:31:46</text>
<text x="835.89" y="3217.8" font-size="17.67" textLength="127.6" lengthAdjust="spacingAndGlyphs" >10/03 19:31:56</text>
<text x="1096.89" y="3217.8" font-size="17.67" textLength="127.6" lengthAdjust="spacingAndGlyphs" >10/03 19:32:06</text>
<text x="1357.89" y="3217.8" font-size="17.67" textLength="127.6" lengthAdjust="spacingAndGlyphs" >10/03 19:32:16</text>
<text x="1618.89" y="3217.8" font-size="17.67" textLength="127.6" lengthAdjust="spacingAndGlyphs" >10/03 19:32:26</text>
<text x="71.94" y="3200.4" font-size="17.67" textLength="36" lengthAdjust="spacingAndGlyphs" >0.02</text>
<text x="71.2" y="3156" font-size="17.67" textLength="36.35" lengthAdjust="spacingAndGlyphs" >0.04</text>
<text x="71.31" y="3111.6" font-size="17.67" textLength="36.52" lengthAdjust="spacingAndGlyphs" >0.06</text>
<text x="71.4" y="3067.2" font-size="17.67" textLength="36.42" lengthAdjust="spacingAndGlyphs" >0.08</text>
<text x="71.37" y="3022.8" font-size="17.67" textLength="36.36" lengthAdjust="spacingAndGlyphs" >0.10</text>
<text x="71.94" y="2978.4" font-size="17.67" textLength="36" lengthAdjust="spacingAndGlyphs" >0.12</text>
<text transform="translate(60,1419) rotate(-90)" x="-22.52" y="0" font-size="17.67" textLength="44.69" lengthAdjust="spacingAndGlyphs" >B(nT)</text>
<text transform="translate(59.9,1751.95) rotate(-90)" x="-22.52" y="0" font-size="17.67" textLength="44.69" lengthAdjust="spacingAndGlyphs" >B(nT)</text>
<text transform="translate(58,2085.1) rotate(-90)" x="-42.75" y="0" font-size="17.67" textLength="86.58" lengthAdjust="spacingAndGlyphs" >Vsw(km/s)</text>
<text transform="translate(62.9,2752.5) rotate(-90)" x="-37.05" y="0" font-size="17.67" textLength="73.7" lengthAdjust="spacingAndGlyphs" >Np(#/cc)</text>
<g transform="translate(52.6,2424.8) rotate(-90)">
<text x="0.31" y="0" font-family="Liberation Serif" font-style="italic" font-size="16.67" textLength="9.71" lengthAdjust="spacingAndGlyphs" >β</text>
<text x="10.27" y="2.9" font-family="Liberation Serif" font-style="italic" font-size="11.67" textLength="5.68" lengthAdjust="spacingAndGlyphs" >p</text>
</g>
<g transform="translate(52.8,3118.8) rotate(-90)">
<text x="-0.38" y="0" font-size="17.67" textLength="25.28" lengthAdjust="spacingAndGlyphs" >Tp(</text>
<text x="26.14" y="0" font-family="Liberation Serif" font-size="16.67" textLength="17.73" lengthAdjust="spacingAndGlyphs" >10</text>
<text x="43.91" y="-5.8" font-family="Liberation Serif" font-size="11.67" textLength="5.73" lengthAdjust="spacingAndGlyphs" >6</text>
<text x="51.06" y="0" font-size="17.67" textLength="17.52" lengthAdjust="spacingAndGlyphs" >K)</text>
</g>
<text x="726.87" y="2960.5" font-size="24.38" textLength="282.52" lengthAdjust="spacingAndGlyphs" >Proton Temperature and</text>
<text x="1014.29" y="2960.5" font-family="Liberation Serif" font-style="italic" font-size="23" textLength="13.66" lengthAdjust="spacingAndGlyphs" >T</text>
<text x="1028.15" y="2964" font-family="Liberation Serif" font-style="italic" font-size="16.1" textLength="7.95" lengthAdjust="spacingAndGlyphs" >e</text>
<text x="1036.63" y="2960.5" font-family="Liberation Serif" font-style="italic" font-size="23" textLength="6.25" lengthAdjust="spacingAndGlyphs" >/</text>
<text x="1042.79" y="2960.5" font-family="Liberation Serif" font-style="italic" font-size="23" textLength="13.66" lengthAdjust="spacingAndGlyphs" >T</text>
<text x="1061.86" y="2964" font-family="Liberation Serif" font-style="italic" font-size="16.1" textLength="9.09" lengthAdjust="spacingAndGlyphs" >p</text>
<rect x="1604" y="1312" width="72" height="72" fill="#fff" stroke="#000" stroke-width="2"/>
<path d="M1612.9 1325H1636" stroke="#ff0000" stroke-width="2.1"/>
<text x="1650.66" y="1329.8" font-size="16.19" textLength="16.32" lengthAdjust="spacingAndGlyphs" >Br</text>
<path d="M1612.9 1347.5H1636" stroke="#008000" stroke-width="2.1"/>
<text x="1650.65" y="1352.3" font-size="16.19" textLength="15.55" lengthAdjust="spacingAndGlyphs" >Bt</text>
<path d="M1612.9 1370H1636" stroke="#0000ff" stroke-width="2.1"/>
<text x="1650.72" y="1374.8" font-size="16.19" textLength="19.02" lengthAdjust="spacingAndGlyphs" >Bn</text>
<rect x="1601" y="1646" width="75" height="94" fill="#fff" stroke="#000" stroke-width="2"/>
<path d="M1609.9 1659H1632" stroke="#ff0000" stroke-width="2.1"/>
<text x="1647.76" y="1663.8" font-size="16.19" textLength="22.17" lengthAdjust="spacingAndGlyphs" >Bx'</text>
<path d="M1609.9 1681.03H1632" stroke="#008000" stroke-width="2.1"/>
<text x="1647.76" y="1685.83" font-size="16.19" textLength="22.17" lengthAdjust="spacingAndGlyphs" >By'</text>
<path d="M1609.9 1703.06H1632" stroke="#0000ff" stroke-width="2.1"/>
<text x="1647.83" y="1707.86" font-size="16.19" textLength="21.07" lengthAdjust="spacingAndGlyphs" >Bz'</text>
<path d="M1609.9 1725.09H1632" stroke="#000000" stroke-width="2.1"/>
<text x="1647.66" y="1729.89" font-size="16.19" textLength="19.17" lengthAdjust="spacingAndGlyphs" >|B|</text>
<rect x="1604" y="1979" width="72" height="72" fill="#fff" stroke="#000" stroke-width="2"/>
<path d="M1612.9 1992H1636" stroke="#ff0000" stroke-width="2.1"/>
<text x="1651.93" y="1996.8" font-size="16.19" textLength="16.35" lengthAdjust="spacingAndGlyphs" >Vr</text>
<path d="M1612.9 2014.5H1636" stroke="#008000" stroke-width="2.1"/>
<text x="1651.93" y="2019.3" font-size="16.19" textLength="15.57" lengthAdjust="spacingAndGlyphs" >Vt</text>
<path d="M1612.9 2037H1636" stroke="#0000ff" stroke-width="2.1"/>
<text x="1651.93" y="2041.8" font-size="16.19" textLength="19.12" lengthAdjust="spacingAndGlyphs" >Vn</text>
<rect x="124" y="2980" width="71" height="27" fill="#fff" stroke="#000" stroke-width="2"/>
<path d="M133.4 2993H156" stroke="#0000ff" stroke-width="2.1"/>
<text x="171.04" y="2997.8" font-size="16.19" textLength="18.6" lengthAdjust="spacingAndGlyphs" >Tp</text>
</svg>
</body></html>
